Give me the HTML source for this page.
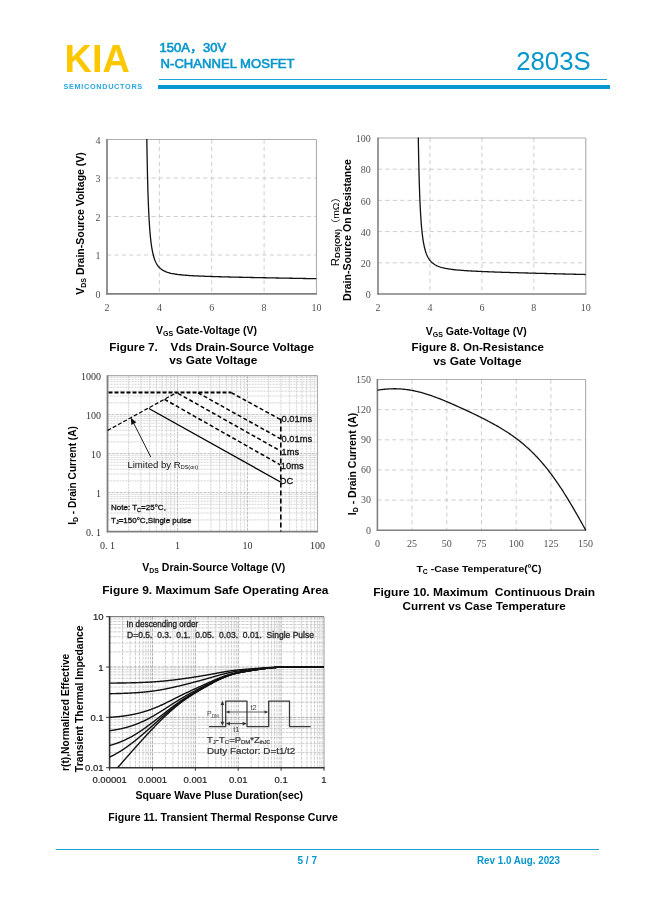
<!DOCTYPE html>
<html><head><meta charset="utf-8"><title>2803S datasheet page 5</title>
<style>html,body{margin:0;padding:0;background:#fff;overflow:hidden;width:649px;height:917px;} svg{display:block;}</style></head>
<body><svg width="649" height="917" viewBox="0 0 649 917">
<rect width="649" height="917" fill="#fff"/>
<text x="64.60" y="72.00" font-family='"Liberation Sans", Arial, sans-serif' font-size="39.5" font-weight="bold" fill="#fdc700" text-anchor="start" textLength="65.2" lengthAdjust="spacingAndGlyphs">KIA</text>
<text x="63.40" y="88.80" font-family='"Liberation Sans", Arial, sans-serif' font-size="7.3" font-weight="bold" fill="#2ba6dc" text-anchor="start" textLength="78.8" lengthAdjust="spacing">SEMICONDUCTORS</text>
<text x="159.60" y="51.80" font-family='"Liberation Sans", "Noto Sans CJK SC", sans-serif' font-size="12.4" font-weight="normal" fill="#0796cd" text-anchor="start" stroke="#0796cd" stroke-width="0.6" textLength="66.5" lengthAdjust="spacingAndGlyphs">150A，30V</text>
<text x="160.60" y="68.00" font-family='"Liberation Sans", Arial, sans-serif' font-size="13.2" font-weight="normal" fill="#0796cd" text-anchor="start" stroke="#0796cd" stroke-width="0.6" textLength="134" lengthAdjust="spacingAndGlyphs">N-CHANNEL MOSFET</text>
<text x="516.20" y="70.10" font-family='"Liberation Sans", Arial, sans-serif' font-size="25.6" font-weight="normal" fill="#0796cd" text-anchor="start" textLength="74.5" lengthAdjust="spacingAndGlyphs">2803S</text>
<line x1="159.00" y1="79.50" x2="607.00" y2="79.50" stroke="#22a3d8" stroke-width="1" />
<line x1="158.00" y1="87.00" x2="610.00" y2="87.00" stroke="#0796cd" stroke-width="4" />
<line x1="55.70" y1="849.50" x2="599.00" y2="849.50" stroke="#22a3d8" stroke-width="1.1" />
<text x="297.50" y="864.00" font-family='"Liberation Sans", Arial, sans-serif' font-size="10" font-weight="bold" fill="#0796cd" text-anchor="start" >5 / 7</text>
<text x="477.00" y="864.00" font-family='"Liberation Sans", Arial, sans-serif' font-size="10" font-weight="bold" fill="#0796cd" text-anchor="start" textLength="83" lengthAdjust="spacingAndGlyphs">Rev 1.0 Aug. 2023</text>
<line x1="159.38" y1="139.50" x2="159.38" y2="293.50" stroke="#c2c2c2" stroke-width="0.8" stroke-dasharray="4.2,3.2" />
<line x1="211.75" y1="139.50" x2="211.75" y2="293.50" stroke="#c2c2c2" stroke-width="0.8" stroke-dasharray="4.2,3.2" />
<line x1="264.12" y1="139.50" x2="264.12" y2="293.50" stroke="#c2c2c2" stroke-width="0.8" stroke-dasharray="4.2,3.2" />
<line x1="107.00" y1="255.00" x2="316.50" y2="255.00" stroke="#c2c2c2" stroke-width="0.8" stroke-dasharray="4.2,3.2" />
<line x1="107.00" y1="216.50" x2="316.50" y2="216.50" stroke="#c2c2c2" stroke-width="0.8" stroke-dasharray="4.2,3.2" />
<line x1="107.00" y1="178.00" x2="316.50" y2="178.00" stroke="#c2c2c2" stroke-width="0.8" stroke-dasharray="4.2,3.2" />
<line x1="107.00" y1="139.50" x2="316.50" y2="139.50" stroke="#adadad" stroke-width="1.2" />
<line x1="316.50" y1="139.50" x2="316.50" y2="293.50" stroke="#adadad" stroke-width="1.1" />
<line x1="107.00" y1="139.00" x2="107.00" y2="294.70" stroke="#808080" stroke-width="1.7" />
<line x1="106.20" y1="293.90" x2="317.00" y2="293.90" stroke="#808080" stroke-width="1.7" />
<polyline points="146.82,139.04 146.85,141.02 146.88,142.97 146.91,144.87 146.94,146.73 146.97,148.56 147.00,150.34 147.03,152.09 147.06,153.80 147.09,155.47 147.12,157.11 147.15,158.72 147.18,160.29 147.21,161.83 147.24,163.34 147.27,164.82 147.30,166.28 147.33,167.70 147.36,169.09 147.39,170.46 147.42,171.81 147.45,173.12 147.48,174.41 147.51,175.68 147.54,176.92 147.57,178.14 147.60,179.34 147.63,180.52 147.66,181.67 147.69,182.80 147.72,183.91 147.75,185.01 147.78,186.08 147.81,187.13 147.84,188.17 147.87,189.19 147.90,190.19 147.93,191.17 147.96,192.13 147.99,193.08 148.02,194.01 148.05,194.93 148.08,195.83 148.11,196.72 148.14,197.59 148.17,198.45 148.20,199.29 148.23,200.12 148.26,200.94 148.29,201.74 148.35,203.30 148.41,204.82 148.47,206.29 148.53,207.72 148.59,209.10 148.65,210.44 148.71,211.73 148.77,212.99 148.84,214.22 148.90,215.41 148.96,216.56 149.02,217.68 149.08,218.77 149.14,219.83 149.20,220.86 149.26,221.86 149.32,222.83 149.38,223.78 149.44,224.70 149.50,225.60 149.56,226.47 149.62,227.33 149.68,228.15 149.74,228.96 149.83,230.14 149.92,231.27 150.01,232.36 150.10,233.41 150.19,234.42 150.28,235.40 150.37,236.34 150.46,237.25 150.55,238.13 150.64,238.97 150.73,239.79 150.85,240.85 150.97,241.85 151.09,242.82 151.21,243.74 151.33,244.62 151.45,245.47 151.57,246.29 151.72,247.26 151.87,248.19 152.02,249.07 152.17,249.91 152.32,250.71 152.50,251.63 152.68,252.49 152.87,253.31 153.08,254.21 153.29,255.07 153.50,255.87 153.74,256.73 153.98,257.54 154.25,258.39 154.52,259.18 154.82,260.00 155.12,260.76 155.45,261.54 155.81,262.32 156.17,263.04 156.56,263.76 156.99,264.47 157.44,265.17 157.92,265.85 158.43,266.50 159.35,267.53 160.40,268.53 161.45,269.36 162.51,270.08 163.56,270.68 164.61,271.21 165.67,271.67 166.72,272.08 167.77,272.43 168.83,272.75 169.88,273.03 170.93,273.29 171.99,273.52 173.04,273.72 174.09,273.91 175.15,274.09 176.20,274.25 177.25,274.39 178.31,274.53 179.36,274.65 180.41,274.77 181.47,274.88 182.52,274.98 183.57,275.08 184.63,275.17 185.68,275.25 186.73,275.33 187.79,275.41 188.84,275.48 189.89,275.55 190.95,275.61 192.00,275.67 193.05,275.73 194.11,275.79 195.16,275.85 196.21,275.90 197.27,275.95 198.32,276.00 199.38,276.04 200.43,276.09 201.48,276.13 202.54,276.18 203.59,276.22 204.64,276.26 205.70,276.30 206.75,276.34 207.80,276.37 208.86,276.41 209.91,276.44 210.96,276.48 212.02,276.51 213.07,276.55 214.12,276.58 215.18,276.61 216.23,276.64 217.28,276.67 218.34,276.70 219.39,276.73 220.44,276.76 221.50,276.79 222.55,276.82 223.60,276.85 224.66,276.87 225.71,276.90 226.76,276.93 227.82,276.95 228.87,276.98 229.92,277.01 230.98,277.03 232.03,277.06 233.08,277.08 234.14,277.11 235.19,277.13 236.24,277.16 237.30,277.18 238.35,277.20 239.40,277.23 240.46,277.25 241.51,277.27 242.56,277.30 243.62,277.32 244.67,277.34 245.72,277.37 246.78,277.39 247.83,277.41 248.88,277.43 249.94,277.46 250.99,277.48 252.04,277.50 253.10,277.52 254.15,277.54 255.20,277.56 256.26,277.59 257.31,277.61 258.36,277.63 259.42,277.65 260.47,277.67 261.52,277.69 262.58,277.71 263.63,277.73 264.68,277.75 265.74,277.77 266.79,277.80 267.84,277.82 268.90,277.84 269.95,277.86 271.00,277.88 272.06,277.90 273.11,277.92 274.16,277.94 275.22,277.96 276.27,277.98 277.33,278.00 278.38,278.02 279.43,278.04 280.49,278.06 281.54,278.08 282.59,278.10 283.65,278.12 284.70,278.14 285.75,278.16 286.81,278.18 287.86,278.19 288.91,278.21 289.97,278.23 291.02,278.25 292.07,278.27 293.13,278.29 294.18,278.31 295.23,278.33 296.29,278.35 297.34,278.37 298.39,278.39 299.45,278.41 300.50,278.43 301.55,278.45 302.61,278.46 303.66,278.48 304.71,278.50 305.77,278.52 306.82,278.54 307.87,278.56 308.93,278.58 309.98,278.60 311.03,278.62 312.09,278.63 313.14,278.65 314.19,278.67 315.25,278.69 316.30,278.71 316.30,278.71" fill="none" stroke="#111" stroke-width="1.3" stroke-linejoin="round" />
<text x="100.50" y="297.60" font-family='"Liberation Serif", "Times New Roman", serif' font-size="10" font-weight="normal" fill="#505050" text-anchor="end" >0</text>
<text x="100.50" y="259.10" font-family='"Liberation Serif", "Times New Roman", serif' font-size="10" font-weight="normal" fill="#505050" text-anchor="end" >1</text>
<text x="100.50" y="220.60" font-family='"Liberation Serif", "Times New Roman", serif' font-size="10" font-weight="normal" fill="#505050" text-anchor="end" >2</text>
<text x="100.50" y="182.10" font-family='"Liberation Serif", "Times New Roman", serif' font-size="10" font-weight="normal" fill="#505050" text-anchor="end" >3</text>
<text x="100.50" y="143.60" font-family='"Liberation Serif", "Times New Roman", serif' font-size="10" font-weight="normal" fill="#505050" text-anchor="end" >4</text>
<text x="107.00" y="310.50" font-family='"Liberation Serif", "Times New Roman", serif' font-size="10" font-weight="normal" fill="#505050" text-anchor="middle" >2</text>
<text x="159.38" y="310.50" font-family='"Liberation Serif", "Times New Roman", serif' font-size="10" font-weight="normal" fill="#505050" text-anchor="middle" >4</text>
<text x="211.75" y="310.50" font-family='"Liberation Serif", "Times New Roman", serif' font-size="10" font-weight="normal" fill="#505050" text-anchor="middle" >6</text>
<text x="264.12" y="310.50" font-family='"Liberation Serif", "Times New Roman", serif' font-size="10" font-weight="normal" fill="#505050" text-anchor="middle" >8</text>
<text x="316.50" y="310.50" font-family='"Liberation Serif", "Times New Roman", serif' font-size="10" font-weight="normal" fill="#505050" text-anchor="middle" >10</text>
<text transform="translate(83.5,223.5) rotate(-90)" font-family='"Liberation Sans", Arial, sans-serif' font-size="10.5" font-weight="bold" text-anchor="middle">V<tspan font-size="7" dy="2">DS</tspan><tspan dy="-2"> Drain-Source Voltage (V)</tspan></text>
<text x="156" y="334" font-family='"Liberation Sans", Arial, sans-serif' font-size="10.5" font-weight="bold">V<tspan font-size="7" dy="2">GS</tspan><tspan dy="-2"> Gate-Voltage (V)</tspan></text>
<text x="109.30" y="350.80" font-family='"Liberation Sans", Arial, sans-serif' font-size="10.6" font-weight="bold" fill="#000" text-anchor="start" textLength="48.5" lengthAdjust="spacingAndGlyphs">Figure 7.</text>
<text x="170.60" y="350.80" font-family='"Liberation Sans", Arial, sans-serif' font-size="10.6" font-weight="bold" fill="#000" text-anchor="start" textLength="143.5" lengthAdjust="spacingAndGlyphs">Vds Drain-Source Voltage</text>
<text x="169.20" y="364.40" font-family='"Liberation Sans", Arial, sans-serif' font-size="10.6" font-weight="bold" fill="#000" text-anchor="start" textLength="88.2" lengthAdjust="spacingAndGlyphs">vs Gate Voltage</text>
<line x1="429.95" y1="138.00" x2="429.95" y2="294.00" stroke="#c2c2c2" stroke-width="0.8" stroke-dasharray="4.2,3.2" />
<line x1="481.90" y1="138.00" x2="481.90" y2="294.00" stroke="#c2c2c2" stroke-width="0.8" stroke-dasharray="4.2,3.2" />
<line x1="533.85" y1="138.00" x2="533.85" y2="294.00" stroke="#c2c2c2" stroke-width="0.8" stroke-dasharray="4.2,3.2" />
<line x1="378.00" y1="262.80" x2="585.80" y2="262.80" stroke="#c2c2c2" stroke-width="0.8" stroke-dasharray="4.2,3.2" />
<line x1="378.00" y1="231.60" x2="585.80" y2="231.60" stroke="#c2c2c2" stroke-width="0.8" stroke-dasharray="4.2,3.2" />
<line x1="378.00" y1="200.40" x2="585.80" y2="200.40" stroke="#c2c2c2" stroke-width="0.8" stroke-dasharray="4.2,3.2" />
<line x1="378.00" y1="169.20" x2="585.80" y2="169.20" stroke="#c2c2c2" stroke-width="0.8" stroke-dasharray="4.2,3.2" />
<line x1="378.00" y1="138.00" x2="585.80" y2="138.00" stroke="#adadad" stroke-width="1.2" />
<line x1="585.80" y1="138.00" x2="585.80" y2="294.00" stroke="#adadad" stroke-width="1.1" />
<line x1="378.00" y1="137.50" x2="378.00" y2="294.70" stroke="#808080" stroke-width="1.6" />
<line x1="377.30" y1="294.00" x2="586.30" y2="294.00" stroke="#808080" stroke-width="1.6" />
<polyline points="418.30,137.49 418.33,139.36 418.36,141.20 418.39,142.99 418.42,144.75 418.45,146.46 418.48,148.15 418.51,149.79 418.54,151.41 418.57,152.99 418.60,154.54 418.63,156.05 418.66,157.54 418.69,158.99 418.72,160.42 418.75,161.82 418.78,163.19 418.81,164.54 418.84,165.86 418.87,167.15 418.90,168.42 418.93,169.66 418.96,170.89 418.99,172.09 419.02,173.26 419.05,174.42 419.08,175.55 419.11,176.67 419.14,177.76 419.17,178.83 419.20,179.89 419.23,180.92 419.26,181.94 419.29,182.94 419.32,183.92 419.35,184.89 419.38,185.84 419.41,186.77 419.44,187.69 419.47,188.59 419.50,189.48 419.53,190.35 419.56,191.21 419.59,192.05 419.62,192.88 419.65,193.69 419.68,194.50 419.74,196.06 419.80,197.58 419.86,199.05 419.92,200.48 419.98,201.86 420.04,203.20 420.10,204.50 420.16,205.76 420.22,206.98 420.28,208.17 420.35,209.33 420.41,210.45 420.47,211.54 420.53,212.60 420.59,213.63 420.65,214.64 420.71,215.61 420.77,216.57 420.83,217.49 420.89,218.39 420.95,219.27 421.01,220.12 421.07,220.96 421.13,221.77 421.22,222.95 421.31,224.09 421.40,225.18 421.49,226.24 421.58,227.26 421.67,228.24 421.76,229.19 421.85,230.11 421.94,231.00 422.03,231.85 422.12,232.68 422.21,233.48 422.33,234.51 422.45,235.50 422.57,236.44 422.69,237.35 422.81,238.22 422.93,239.06 423.05,239.86 423.20,240.82 423.35,241.74 423.50,242.61 423.65,243.45 423.80,244.24 423.98,245.15 424.16,246.01 424.35,246.83 424.56,247.74 424.77,248.59 424.98,249.40 425.22,250.27 425.46,251.08 425.70,251.85 425.97,252.66 426.24,253.42 426.54,254.20 426.87,255.01 427.20,255.76 427.56,256.52 427.95,257.27 428.35,257.97 428.77,258.67 429.22,259.35 429.70,260.02 430.21,260.67 430.82,261.37 431.86,262.42 432.90,263.31 433.94,264.07 434.98,264.73 436.02,265.30 437.06,265.81 438.10,266.25 439.14,266.65 440.17,267.01 441.21,267.33 442.25,267.62 443.29,267.88 444.33,268.12 445.37,268.34 446.41,268.54 447.45,268.73 448.49,268.90 449.53,269.06 450.57,269.21 451.61,269.35 452.65,269.49 453.69,269.61 454.73,269.73 455.77,269.84 456.81,269.94 457.85,270.04 458.89,270.13 459.92,270.22 460.96,270.31 462.00,270.39 463.04,270.47 464.08,270.54 465.12,270.62 466.16,270.68 467.20,270.75 468.24,270.82 469.28,270.88 470.32,270.94 471.36,271.00 472.40,271.06 473.44,271.11 474.48,271.16 475.52,271.22 476.56,271.27 477.60,271.32 478.64,271.37 479.67,271.41 480.71,271.46 481.75,271.51 482.79,271.55 483.83,271.59 484.87,271.64 485.91,271.68 486.95,271.72 487.99,271.76 489.03,271.80 490.07,271.84 491.11,271.88 492.15,271.92 493.19,271.96 494.23,271.99 495.27,272.03 496.31,272.07 497.35,272.10 498.38,272.14 499.42,272.17 500.46,272.21 501.50,272.24 502.54,272.28 503.58,272.31 504.62,272.34 505.66,272.38 506.70,272.41 507.74,272.44 508.78,272.47 509.82,272.51 510.86,272.54 511.90,272.57 512.94,272.60 513.98,272.63 515.02,272.66 516.06,272.69 517.10,272.72 518.13,272.76 519.17,272.79 520.21,272.82 521.25,272.85 522.29,272.87 523.33,272.90 524.37,272.93 525.41,272.96 526.45,272.99 527.49,273.02 528.53,273.05 529.57,273.08 530.61,273.11 531.65,273.14 532.69,273.16 533.73,273.19 534.77,273.22 535.81,273.25 536.85,273.28 537.88,273.30 538.92,273.33 539.96,273.36 541.00,273.39 542.04,273.41 543.08,273.44 544.12,273.47 545.16,273.50 546.20,273.52 547.24,273.55 548.28,273.58 549.32,273.60 550.36,273.63 551.40,273.66 552.44,273.69 553.48,273.71 554.52,273.74 555.56,273.77 556.59,273.79 557.63,273.82 558.67,273.84 559.71,273.87 560.75,273.90 561.79,273.92 562.83,273.95 563.87,273.98 564.91,274.00 565.95,274.03 566.99,274.05 568.03,274.08 569.07,274.11 570.11,274.13 571.15,274.16 572.19,274.18 573.23,274.21 574.27,274.24 575.31,274.26 576.34,274.29 577.38,274.31 578.42,274.34 579.46,274.36 580.50,274.39 581.54,274.42 582.58,274.44 583.62,274.47 584.66,274.49 585.70,274.52 585.70,274.52" fill="none" stroke="#111" stroke-width="1.3" stroke-linejoin="round" />
<text x="370.80" y="298.10" font-family='"Liberation Serif", "Times New Roman", serif' font-size="10" font-weight="normal" fill="#505050" text-anchor="end" >0</text>
<text x="370.80" y="266.90" font-family='"Liberation Serif", "Times New Roman", serif' font-size="10" font-weight="normal" fill="#505050" text-anchor="end" >20</text>
<text x="370.80" y="235.70" font-family='"Liberation Serif", "Times New Roman", serif' font-size="10" font-weight="normal" fill="#505050" text-anchor="end" >40</text>
<text x="370.80" y="204.50" font-family='"Liberation Serif", "Times New Roman", serif' font-size="10" font-weight="normal" fill="#505050" text-anchor="end" >60</text>
<text x="370.80" y="173.30" font-family='"Liberation Serif", "Times New Roman", serif' font-size="10" font-weight="normal" fill="#505050" text-anchor="end" >80</text>
<text x="370.80" y="142.10" font-family='"Liberation Serif", "Times New Roman", serif' font-size="10" font-weight="normal" fill="#505050" text-anchor="end" >100</text>
<text x="378.00" y="310.50" font-family='"Liberation Serif", "Times New Roman", serif' font-size="10" font-weight="normal" fill="#505050" text-anchor="middle" >2</text>
<text x="429.95" y="310.50" font-family='"Liberation Serif", "Times New Roman", serif' font-size="10" font-weight="normal" fill="#505050" text-anchor="middle" >4</text>
<text x="481.90" y="310.50" font-family='"Liberation Serif", "Times New Roman", serif' font-size="10" font-weight="normal" fill="#505050" text-anchor="middle" >6</text>
<text x="533.85" y="310.50" font-family='"Liberation Serif", "Times New Roman", serif' font-size="10" font-weight="normal" fill="#505050" text-anchor="middle" >8</text>
<text x="585.80" y="310.50" font-family='"Liberation Serif", "Times New Roman", serif' font-size="10" font-weight="normal" fill="#505050" text-anchor="middle" >10</text>
<text transform="translate(338.6,266.2) rotate(-90)" font-family='"Liberation Sans", Arial, sans-serif' font-size="10.5" font-weight="normal" text-anchor="start" textLength="74" lengthAdjust="spacingAndGlyphs">R<tspan font-size="7.5" font-weight="bold" dy="1.8">DS(ON)</tspan><tspan dy="-1.8" font-size="9.5" font-family='"Liberation Sans","Noto Sans CJK SC",sans-serif'>（mΩ）</tspan></text>
<text transform="translate(351,230) rotate(-90)" font-family='"Liberation Sans", Arial, sans-serif' font-size="10.5" font-weight="bold" text-anchor="middle">Drain-Source On Resistance</text>
<text x="425.7" y="334.5" font-family='"Liberation Sans", Arial, sans-serif' font-size="10.5" font-weight="bold">V<tspan font-size="7" dy="2">GS</tspan><tspan dy="-2"> Gate-Voltage (V)</tspan></text>
<text x="411.60" y="350.80" font-family='"Liberation Sans", Arial, sans-serif' font-size="10.4" font-weight="bold" fill="#000" text-anchor="start" textLength="132.3" lengthAdjust="spacingAndGlyphs">Figure 8. On-Resistance</text>
<text x="433.20" y="364.60" font-family='"Liberation Sans", Arial, sans-serif' font-size="10.4" font-weight="bold" fill="#000" text-anchor="start" textLength="88.4" lengthAdjust="spacingAndGlyphs">vs Gate Voltage</text>
<line x1="128.57" y1="375.70" x2="128.57" y2="531.60" stroke="#c6c6c6" stroke-width="0.75" stroke-dasharray="2,1" />
<line x1="140.90" y1="375.70" x2="140.90" y2="531.60" stroke="#c6c6c6" stroke-width="0.75" stroke-dasharray="2,1" />
<line x1="149.64" y1="375.70" x2="149.64" y2="531.60" stroke="#c6c6c6" stroke-width="0.75" stroke-dasharray="2,1" />
<line x1="156.43" y1="375.70" x2="156.43" y2="531.60" stroke="#c6c6c6" stroke-width="0.75" stroke-dasharray="2,1" />
<line x1="161.97" y1="375.70" x2="161.97" y2="531.60" stroke="#c6c6c6" stroke-width="0.75" stroke-dasharray="2,1" />
<line x1="166.66" y1="375.70" x2="166.66" y2="531.60" stroke="#c6c6c6" stroke-width="0.75" stroke-dasharray="2,1" />
<line x1="170.72" y1="375.70" x2="170.72" y2="531.60" stroke="#c6c6c6" stroke-width="0.75" stroke-dasharray="2,1" />
<line x1="174.30" y1="375.70" x2="174.30" y2="531.60" stroke="#c6c6c6" stroke-width="0.75" stroke-dasharray="2,1" />
<line x1="177.50" y1="375.70" x2="177.50" y2="531.60" stroke="#b2b2b2" stroke-width="0.8" stroke-dasharray="3,1" />
<line x1="198.57" y1="375.70" x2="198.57" y2="531.60" stroke="#c6c6c6" stroke-width="0.75" stroke-dasharray="2,1" />
<line x1="210.90" y1="375.70" x2="210.90" y2="531.60" stroke="#c6c6c6" stroke-width="0.75" stroke-dasharray="2,1" />
<line x1="219.64" y1="375.70" x2="219.64" y2="531.60" stroke="#c6c6c6" stroke-width="0.75" stroke-dasharray="2,1" />
<line x1="226.43" y1="375.70" x2="226.43" y2="531.60" stroke="#c6c6c6" stroke-width="0.75" stroke-dasharray="2,1" />
<line x1="231.97" y1="375.70" x2="231.97" y2="531.60" stroke="#c6c6c6" stroke-width="0.75" stroke-dasharray="2,1" />
<line x1="236.66" y1="375.70" x2="236.66" y2="531.60" stroke="#c6c6c6" stroke-width="0.75" stroke-dasharray="2,1" />
<line x1="240.72" y1="375.70" x2="240.72" y2="531.60" stroke="#c6c6c6" stroke-width="0.75" stroke-dasharray="2,1" />
<line x1="244.30" y1="375.70" x2="244.30" y2="531.60" stroke="#c6c6c6" stroke-width="0.75" stroke-dasharray="2,1" />
<line x1="247.50" y1="375.70" x2="247.50" y2="531.60" stroke="#b2b2b2" stroke-width="0.8" stroke-dasharray="3,1" />
<line x1="268.57" y1="375.70" x2="268.57" y2="531.60" stroke="#c6c6c6" stroke-width="0.75" stroke-dasharray="2,1" />
<line x1="280.90" y1="375.70" x2="280.90" y2="531.60" stroke="#c6c6c6" stroke-width="0.75" stroke-dasharray="2,1" />
<line x1="289.64" y1="375.70" x2="289.64" y2="531.60" stroke="#c6c6c6" stroke-width="0.75" stroke-dasharray="2,1" />
<line x1="296.43" y1="375.70" x2="296.43" y2="531.60" stroke="#c6c6c6" stroke-width="0.75" stroke-dasharray="2,1" />
<line x1="301.97" y1="375.70" x2="301.97" y2="531.60" stroke="#c6c6c6" stroke-width="0.75" stroke-dasharray="2,1" />
<line x1="306.66" y1="375.70" x2="306.66" y2="531.60" stroke="#c6c6c6" stroke-width="0.75" stroke-dasharray="2,1" />
<line x1="310.72" y1="375.70" x2="310.72" y2="531.60" stroke="#c6c6c6" stroke-width="0.75" stroke-dasharray="2,1" />
<line x1="314.30" y1="375.70" x2="314.30" y2="531.60" stroke="#c6c6c6" stroke-width="0.75" stroke-dasharray="2,1" />
<line x1="317.50" y1="375.70" x2="317.50" y2="531.60" stroke="#d0d0d0" stroke-width="0.7" />
<line x1="107.50" y1="519.86" x2="317.50" y2="519.86" stroke="#c6c6c6" stroke-width="0.75" stroke-dasharray="2,1" />
<line x1="107.50" y1="512.99" x2="317.50" y2="512.99" stroke="#c6c6c6" stroke-width="0.75" stroke-dasharray="2,1" />
<line x1="107.50" y1="508.12" x2="317.50" y2="508.12" stroke="#c6c6c6" stroke-width="0.75" stroke-dasharray="2,1" />
<line x1="107.50" y1="504.34" x2="317.50" y2="504.34" stroke="#c6c6c6" stroke-width="0.75" stroke-dasharray="2,1" />
<line x1="107.50" y1="501.25" x2="317.50" y2="501.25" stroke="#c6c6c6" stroke-width="0.75" stroke-dasharray="2,1" />
<line x1="107.50" y1="498.64" x2="317.50" y2="498.64" stroke="#c6c6c6" stroke-width="0.75" stroke-dasharray="2,1" />
<line x1="107.50" y1="496.38" x2="317.50" y2="496.38" stroke="#c6c6c6" stroke-width="0.75" stroke-dasharray="2,1" />
<line x1="107.50" y1="494.38" x2="317.50" y2="494.38" stroke="#c6c6c6" stroke-width="0.75" stroke-dasharray="2,1" />
<line x1="107.50" y1="492.60" x2="317.50" y2="492.60" stroke="#b2b2b2" stroke-width="0.8" stroke-dasharray="3,1" />
<line x1="107.50" y1="480.86" x2="317.50" y2="480.86" stroke="#c6c6c6" stroke-width="0.75" stroke-dasharray="2,1" />
<line x1="107.50" y1="473.99" x2="317.50" y2="473.99" stroke="#c6c6c6" stroke-width="0.75" stroke-dasharray="2,1" />
<line x1="107.50" y1="469.12" x2="317.50" y2="469.12" stroke="#c6c6c6" stroke-width="0.75" stroke-dasharray="2,1" />
<line x1="107.50" y1="465.34" x2="317.50" y2="465.34" stroke="#c6c6c6" stroke-width="0.75" stroke-dasharray="2,1" />
<line x1="107.50" y1="462.25" x2="317.50" y2="462.25" stroke="#c6c6c6" stroke-width="0.75" stroke-dasharray="2,1" />
<line x1="107.50" y1="459.64" x2="317.50" y2="459.64" stroke="#c6c6c6" stroke-width="0.75" stroke-dasharray="2,1" />
<line x1="107.50" y1="457.38" x2="317.50" y2="457.38" stroke="#c6c6c6" stroke-width="0.75" stroke-dasharray="2,1" />
<line x1="107.50" y1="455.38" x2="317.50" y2="455.38" stroke="#c6c6c6" stroke-width="0.75" stroke-dasharray="2,1" />
<line x1="107.50" y1="453.60" x2="317.50" y2="453.60" stroke="#b2b2b2" stroke-width="0.8" stroke-dasharray="3,1" />
<line x1="107.50" y1="441.86" x2="317.50" y2="441.86" stroke="#c6c6c6" stroke-width="0.75" stroke-dasharray="2,1" />
<line x1="107.50" y1="434.99" x2="317.50" y2="434.99" stroke="#c6c6c6" stroke-width="0.75" stroke-dasharray="2,1" />
<line x1="107.50" y1="430.12" x2="317.50" y2="430.12" stroke="#c6c6c6" stroke-width="0.75" stroke-dasharray="2,1" />
<line x1="107.50" y1="426.34" x2="317.50" y2="426.34" stroke="#c6c6c6" stroke-width="0.75" stroke-dasharray="2,1" />
<line x1="107.50" y1="423.25" x2="317.50" y2="423.25" stroke="#c6c6c6" stroke-width="0.75" stroke-dasharray="2,1" />
<line x1="107.50" y1="420.64" x2="317.50" y2="420.64" stroke="#c6c6c6" stroke-width="0.75" stroke-dasharray="2,1" />
<line x1="107.50" y1="418.38" x2="317.50" y2="418.38" stroke="#c6c6c6" stroke-width="0.75" stroke-dasharray="2,1" />
<line x1="107.50" y1="416.38" x2="317.50" y2="416.38" stroke="#c6c6c6" stroke-width="0.75" stroke-dasharray="2,1" />
<line x1="107.50" y1="414.60" x2="317.50" y2="414.60" stroke="#b2b2b2" stroke-width="0.8" stroke-dasharray="3,1" />
<line x1="107.50" y1="402.86" x2="317.50" y2="402.86" stroke="#c6c6c6" stroke-width="0.75" stroke-dasharray="2,1" />
<line x1="107.50" y1="395.99" x2="317.50" y2="395.99" stroke="#c6c6c6" stroke-width="0.75" stroke-dasharray="2,1" />
<line x1="107.50" y1="391.12" x2="317.50" y2="391.12" stroke="#c6c6c6" stroke-width="0.75" stroke-dasharray="2,1" />
<line x1="107.50" y1="387.34" x2="317.50" y2="387.34" stroke="#c6c6c6" stroke-width="0.75" stroke-dasharray="2,1" />
<line x1="107.50" y1="384.25" x2="317.50" y2="384.25" stroke="#c6c6c6" stroke-width="0.75" stroke-dasharray="2,1" />
<line x1="107.50" y1="381.64" x2="317.50" y2="381.64" stroke="#c6c6c6" stroke-width="0.75" stroke-dasharray="2,1" />
<line x1="107.50" y1="379.38" x2="317.50" y2="379.38" stroke="#c6c6c6" stroke-width="0.75" stroke-dasharray="2,1" />
<line x1="107.50" y1="377.38" x2="317.50" y2="377.38" stroke="#c6c6c6" stroke-width="0.75" stroke-dasharray="2,1" />
<line x1="107.50" y1="375.70" x2="317.50" y2="375.70" stroke="#adadad" stroke-width="1.2" />
<line x1="317.50" y1="375.70" x2="317.50" y2="531.60" stroke="#adadad" stroke-width="1.1" />
<line x1="107.50" y1="375.20" x2="107.50" y2="532.30" stroke="#808080" stroke-width="1.8" />
<line x1="106.80" y1="531.60" x2="318.00" y2="531.60" stroke="#808080" stroke-width="1.8" />
<line x1="108.50" y1="392.60" x2="231.20" y2="392.60" stroke="#000" stroke-width="2" stroke-dasharray="4,2" />
<line x1="107.50" y1="430.50" x2="176.60" y2="392.60" stroke="#000" stroke-width="1.2" stroke-dasharray="4,2" />
<line x1="231.20" y1="392.60" x2="280.20" y2="419.40" stroke="#000" stroke-width="1.5" stroke-dasharray="4,2.5" />
<line x1="198.00" y1="392.80" x2="280.20" y2="438.60" stroke="#000" stroke-width="1.5" stroke-dasharray="4,2.5" />
<line x1="178.00" y1="393.40" x2="280.20" y2="450.80" stroke="#000" stroke-width="1.5" stroke-dasharray="4,2.5" />
<line x1="164.50" y1="399.30" x2="280.20" y2="464.80" stroke="#000" stroke-width="1.5" stroke-dasharray="4,2.5" />
<line x1="148.90" y1="408.50" x2="280.50" y2="482.00" stroke="#000" stroke-width="1.35" />
<line x1="280.80" y1="418.50" x2="280.80" y2="531.60" stroke="#000" stroke-width="1.6" stroke-dasharray="5,3" />
<line x1="150.80" y1="457.00" x2="132.80" y2="421.50" stroke="#222" stroke-width="1" />
<polygon points="130.8,417.7 136.4,422.2 131.3,424.9" fill="#111"/>
<text x="127.40" y="467.60" font-family='"Liberation Sans", Arial, sans-serif' font-size="9.6" font-weight="normal" fill="#111" text-anchor="start" >Limited by R<tspan font-size="5.5" dy="1.5">DS(on)</tspan></text>
<text x="281.60" y="422.40" font-family='"Liberation Sans", Arial, sans-serif' font-size="9.3" font-weight="normal" fill="#111" text-anchor="start" stroke="#111" stroke-width="0.3">0.01ms</text>
<text x="281.60" y="442.10" font-family='"Liberation Sans", Arial, sans-serif' font-size="9.3" font-weight="normal" fill="#111" text-anchor="start" stroke="#111" stroke-width="0.3">0.01ms</text>
<text x="281.60" y="454.80" font-family='"Liberation Sans", Arial, sans-serif' font-size="9.3" font-weight="normal" fill="#111" text-anchor="start" stroke="#111" stroke-width="0.3">1ms</text>
<text x="280.80" y="469.20" font-family='"Liberation Sans", Arial, sans-serif' font-size="9.3" font-weight="normal" fill="#111" text-anchor="start" stroke="#111" stroke-width="0.3">10ms</text>
<text x="279.80" y="484.40" font-family='"Liberation Sans", Arial, sans-serif' font-size="9.3" font-weight="normal" fill="#111" text-anchor="start" stroke="#111" stroke-width="0.3">DC</text>
<text x="111.00" y="510.00" font-family='"Liberation Sans", Arial, sans-serif' font-size="8" font-weight="normal" fill="#111" text-anchor="start" stroke="#111" stroke-width="0.3">Note: T<tspan font-size="5.5" dy="1.5">C</tspan><tspan dy="-1.5">=25°C,</tspan></text>
<text x="111.00" y="522.50" font-family='"Liberation Sans", Arial, sans-serif' font-size="8" font-weight="normal" fill="#111" text-anchor="start" stroke="#111" stroke-width="0.3">T<tspan font-size="5.5" dy="1.5">J</tspan><tspan dy="-1.5">=150°C,Single pulse</tspan></text>
<text x="101.00" y="380.00" font-family='"Liberation Serif", "Times New Roman", serif' font-size="10" font-weight="normal" fill="#303030" text-anchor="end" >1000</text>
<text x="101.00" y="419.00" font-family='"Liberation Serif", "Times New Roman", serif' font-size="10" font-weight="normal" fill="#303030" text-anchor="end" >100</text>
<text x="101.00" y="458.00" font-family='"Liberation Serif", "Times New Roman", serif' font-size="10" font-weight="normal" fill="#303030" text-anchor="end" >10</text>
<text x="101.00" y="497.00" font-family='"Liberation Serif", "Times New Roman", serif' font-size="10" font-weight="normal" fill="#303030" text-anchor="end" >1</text>
<text x="101.00" y="536.00" font-family='"Liberation Serif", "Times New Roman", serif' font-size="10" font-weight="normal" fill="#303030" text-anchor="end" >0. 1</text>
<text x="107.50" y="548.60" font-family='"Liberation Serif", "Times New Roman", serif' font-size="10" font-weight="normal" fill="#303030" text-anchor="middle" >0. 1</text>
<text x="177.50" y="548.60" font-family='"Liberation Serif", "Times New Roman", serif' font-size="10" font-weight="normal" fill="#303030" text-anchor="middle" >1</text>
<text x="247.50" y="548.60" font-family='"Liberation Serif", "Times New Roman", serif' font-size="10" font-weight="normal" fill="#303030" text-anchor="middle" >10</text>
<text x="317.50" y="548.60" font-family='"Liberation Serif", "Times New Roman", serif' font-size="10" font-weight="normal" fill="#303030" text-anchor="middle" >100</text>
<text transform="translate(76.2,475.5) rotate(-90)" font-family='"Liberation Sans", Arial, sans-serif' font-size="10.1" font-weight="bold" text-anchor="middle">I<tspan font-size="7" dy="2">D</tspan><tspan dy="-2"> - Drain Current (A)</tspan></text>
<text x="142.3" y="571.4" textLength="143" lengthAdjust="spacingAndGlyphs" font-family='"Liberation Sans", Arial, sans-serif' font-size="10" font-weight="bold">V<tspan font-size="6.5" dy="2">DS</tspan><tspan dy="-2"> Drain-Source Voltage (V)</tspan></text>
<text x="102.30" y="594.40" font-family='"Liberation Sans", Arial, sans-serif' font-size="11.2" font-weight="bold" fill="#000" text-anchor="start" textLength="226.2" lengthAdjust="spacingAndGlyphs">Figure 9. Maximum Safe Operating Area</text>
<line x1="412.10" y1="379.50" x2="412.10" y2="530.30" stroke="#c2c2c2" stroke-width="0.8" stroke-dasharray="4.2,3.2" />
<line x1="446.80" y1="379.50" x2="446.80" y2="530.30" stroke="#c2c2c2" stroke-width="0.8" stroke-dasharray="4.2,3.2" />
<line x1="481.50" y1="379.50" x2="481.50" y2="530.30" stroke="#c2c2c2" stroke-width="0.8" stroke-dasharray="4.2,3.2" />
<line x1="516.20" y1="379.50" x2="516.20" y2="530.30" stroke="#c2c2c2" stroke-width="0.8" stroke-dasharray="4.2,3.2" />
<line x1="550.90" y1="379.50" x2="550.90" y2="530.30" stroke="#c2c2c2" stroke-width="0.8" stroke-dasharray="4.2,3.2" />
<line x1="377.40" y1="500.14" x2="585.60" y2="500.14" stroke="#c2c2c2" stroke-width="0.8" stroke-dasharray="4.2,3.2" />
<line x1="377.40" y1="469.98" x2="585.60" y2="469.98" stroke="#c2c2c2" stroke-width="0.8" stroke-dasharray="4.2,3.2" />
<line x1="377.40" y1="439.82" x2="585.60" y2="439.82" stroke="#c2c2c2" stroke-width="0.8" stroke-dasharray="4.2,3.2" />
<line x1="377.40" y1="409.66" x2="585.60" y2="409.66" stroke="#c2c2c2" stroke-width="0.8" stroke-dasharray="4.2,3.2" />
<line x1="377.40" y1="379.50" x2="585.60" y2="379.50" stroke="#adadad" stroke-width="1.2" />
<line x1="585.60" y1="379.50" x2="585.60" y2="530.30" stroke="#adadad" stroke-width="1.1" />
<line x1="377.40" y1="379.00" x2="377.40" y2="531.00" stroke="#808080" stroke-width="1.6" />
<line x1="376.70" y1="530.30" x2="586.10" y2="530.30" stroke="#808080" stroke-width="1.6" />
<polyline points="377.40,390.14 378.20,390.03 379.01,389.91 379.81,389.81 380.62,389.70 381.42,389.60 382.23,389.50 383.03,389.41 383.84,389.33 384.64,389.25 385.45,389.17 386.25,389.11 387.06,389.04 387.86,388.99 388.66,388.93 389.47,388.89 390.27,388.85 391.08,388.82 391.88,388.80 392.69,388.78 393.49,388.77 394.30,388.76 395.10,388.76 395.91,388.77 396.71,388.79 397.52,388.81 398.32,388.84 399.13,388.88 399.93,388.92 400.73,388.97 401.54,389.03 402.34,389.10 403.15,389.17 403.95,389.25 404.76,389.34 405.56,389.43 406.37,389.53 407.17,389.64 407.98,389.75 408.78,389.87 409.59,390.00 410.39,390.14 411.19,390.28 412.00,390.43 412.80,390.58 413.61,390.74 414.41,390.91 415.22,391.08 416.02,391.26 416.83,391.44 417.63,391.64 418.44,391.83 419.24,392.04 420.05,392.24 420.85,392.46 421.65,392.68 422.46,392.90 423.26,393.13 424.07,393.37 424.87,393.61 425.68,393.85 426.48,394.10 427.29,394.36 428.09,394.62 428.90,394.88 429.70,395.15 430.51,395.42 431.31,395.70 432.12,395.98 432.92,396.26 433.72,396.55 434.53,396.84 435.33,397.14 436.14,397.44 436.94,397.74 437.75,398.05 438.55,398.36 439.36,398.67 440.16,398.98 440.97,399.30 441.77,399.62 442.58,399.95 443.38,400.27 444.18,400.60 444.99,400.93 445.79,401.27 446.60,401.60 447.40,401.94 448.21,402.28 449.01,402.63 449.82,402.97 450.62,403.32 451.43,403.66 452.23,404.01 453.04,404.37 453.84,404.72 454.64,405.08 455.45,405.43 456.25,405.79 457.06,406.15 457.86,406.51 458.67,406.87 459.47,407.24 460.28,407.60 461.08,407.97 461.89,408.34 462.69,408.71 463.50,409.08 464.30,409.45 465.11,409.82 465.91,410.19 466.71,410.57 467.52,410.95 468.32,411.32 469.13,411.70 469.93,412.08 470.74,412.46 471.54,412.85 472.35,413.23 473.15,413.62 473.96,414.00 474.76,414.39 475.57,414.78 476.37,415.17 477.17,415.57 477.98,415.96 478.78,416.36 479.59,416.76 480.39,417.16 481.20,417.56 482.00,417.96 482.81,418.37 483.61,418.78 484.42,419.19 485.22,419.60 486.03,420.01 486.83,420.43 487.63,420.85 488.44,421.27 489.24,421.70 490.05,422.13 490.85,422.56 491.66,422.99 492.46,423.43 493.27,423.87 494.07,424.32 494.88,424.76 495.68,425.22 496.49,425.67 497.29,426.13 498.09,426.59 498.90,427.06 499.70,427.54 500.51,428.01 501.31,428.49 502.12,428.98 502.92,429.47 503.73,429.97 504.53,430.47 505.34,430.98 506.14,431.49 506.95,432.01 507.75,432.54 508.56,433.07 509.36,433.61 510.16,434.15 510.97,434.70 511.77,435.26 512.58,435.82 513.38,436.39 514.19,436.97 514.99,437.56 515.80,438.15 516.60,438.75 517.41,439.36 518.21,439.98 519.02,440.61 519.82,441.24 520.62,441.88 521.43,442.54 522.23,443.20 523.04,443.87 523.84,444.55 524.65,445.24 525.45,445.94 526.26,446.64 527.06,447.36 527.87,448.09 528.67,448.83 529.48,449.58 530.28,450.34 531.08,451.11 531.89,451.89 532.69,452.68 533.50,453.48 534.30,454.30 535.11,455.12 535.91,455.96 536.72,456.81 537.52,457.67 538.33,458.54 539.13,459.43 539.94,460.32 540.74,461.23 541.55,462.15 542.35,463.09 543.15,464.03 543.96,464.99 544.76,465.96 545.57,466.94 546.37,467.93 547.18,468.94 547.98,469.96 548.79,470.99 549.59,472.04 550.40,473.10 551.20,474.17 552.01,475.25 552.81,476.35 553.61,477.46 554.42,478.58 555.22,479.71 556.03,480.86 556.83,482.01 557.64,483.18 558.44,484.37 559.25,485.56 560.05,486.77 560.86,487.99 561.66,489.22 562.47,490.46 563.27,491.71 564.07,492.98 564.88,494.25 565.68,495.54 566.49,496.84 567.29,498.14 568.10,499.46 568.90,500.79 569.71,502.12 570.51,503.47 571.32,504.82 572.12,506.19 572.93,507.56 573.73,508.94 574.54,510.32 575.34,511.72 576.14,513.12 576.95,514.53 577.75,515.94 578.56,517.36 579.36,518.78 580.17,520.21 580.97,521.64 581.78,523.07 582.58,524.51 583.39,525.95 584.19,527.39 585.00,528.83 585.80,530.27" fill="none" stroke="#111" stroke-width="1.3" stroke-linejoin="round" />
<text x="371.00" y="533.50" font-family='"Liberation Serif", "Times New Roman", serif' font-size="10" font-weight="normal" fill="#505050" text-anchor="end" >0</text>
<text x="371.00" y="503.34" font-family='"Liberation Serif", "Times New Roman", serif' font-size="10" font-weight="normal" fill="#505050" text-anchor="end" >30</text>
<text x="371.00" y="473.18" font-family='"Liberation Serif", "Times New Roman", serif' font-size="10" font-weight="normal" fill="#505050" text-anchor="end" >60</text>
<text x="371.00" y="443.02" font-family='"Liberation Serif", "Times New Roman", serif' font-size="10" font-weight="normal" fill="#505050" text-anchor="end" >90</text>
<text x="371.00" y="412.86" font-family='"Liberation Serif", "Times New Roman", serif' font-size="10" font-weight="normal" fill="#505050" text-anchor="end" >120</text>
<text x="371.00" y="382.70" font-family='"Liberation Serif", "Times New Roman", serif' font-size="10" font-weight="normal" fill="#505050" text-anchor="end" >150</text>
<text x="377.40" y="547.00" font-family='"Liberation Serif", "Times New Roman", serif' font-size="10" font-weight="normal" fill="#505050" text-anchor="middle" >0</text>
<text x="412.10" y="547.00" font-family='"Liberation Serif", "Times New Roman", serif' font-size="10" font-weight="normal" fill="#505050" text-anchor="middle" >25</text>
<text x="446.80" y="547.00" font-family='"Liberation Serif", "Times New Roman", serif' font-size="10" font-weight="normal" fill="#505050" text-anchor="middle" >50</text>
<text x="481.50" y="547.00" font-family='"Liberation Serif", "Times New Roman", serif' font-size="10" font-weight="normal" fill="#505050" text-anchor="middle" >75</text>
<text x="516.20" y="547.00" font-family='"Liberation Serif", "Times New Roman", serif' font-size="10" font-weight="normal" fill="#505050" text-anchor="middle" >100</text>
<text x="550.90" y="547.00" font-family='"Liberation Serif", "Times New Roman", serif' font-size="10" font-weight="normal" fill="#505050" text-anchor="middle" >125</text>
<text x="585.60" y="547.00" font-family='"Liberation Serif", "Times New Roman", serif' font-size="10" font-weight="normal" fill="#505050" text-anchor="middle" >150</text>
<text transform="translate(356,464) rotate(-90)" font-family='"Liberation Sans", Arial, sans-serif' font-size="10.5" font-weight="bold" text-anchor="middle">I<tspan font-size="7" dy="2">D</tspan><tspan dy="-2"> - Drain Current (A)</tspan></text>
<text x="416.5" y="572.4" textLength="125" lengthAdjust="spacingAndGlyphs" font-family='"Liberation Sans","Noto Sans CJK SC",sans-serif' font-size="9.4" font-weight="bold">T<tspan font-size="6.3" dy="2">C</tspan><tspan dy="-2"> -Case Temperature(℃)</tspan></text>
<text x="373.20" y="595.70" font-family='"Liberation Sans", Arial, sans-serif' font-size="11" font-weight="bold" fill="#000" text-anchor="start" textLength="222" lengthAdjust="spacingAndGlyphs">Figure 10. Maximum&#160; Continuous Drain</text>
<text x="402.60" y="609.50" font-family='"Liberation Sans", Arial, sans-serif' font-size="11" font-weight="bold" fill="#000" text-anchor="start" textLength="163.2" lengthAdjust="spacingAndGlyphs">Current vs Case Temperature</text>
<line x1="122.51" y1="616.70" x2="122.51" y2="767.70" stroke="#c0c0c0" stroke-width="0.8" stroke-dasharray="3,1" />
<line x1="130.06" y1="616.70" x2="130.06" y2="767.70" stroke="#c0c0c0" stroke-width="0.8" stroke-dasharray="3,1" />
<line x1="135.42" y1="616.70" x2="135.42" y2="767.70" stroke="#c0c0c0" stroke-width="0.8" stroke-dasharray="3,1" />
<line x1="139.57" y1="616.70" x2="139.57" y2="767.70" stroke="#c0c0c0" stroke-width="0.8" stroke-dasharray="3,1" />
<line x1="142.97" y1="616.70" x2="142.97" y2="767.70" stroke="#c0c0c0" stroke-width="0.8" stroke-dasharray="3,1" />
<line x1="145.84" y1="616.70" x2="145.84" y2="767.70" stroke="#c0c0c0" stroke-width="0.8" stroke-dasharray="3,1" />
<line x1="148.32" y1="616.70" x2="148.32" y2="767.70" stroke="#c0c0c0" stroke-width="0.8" stroke-dasharray="3,1" />
<line x1="150.52" y1="616.70" x2="150.52" y2="767.70" stroke="#c0c0c0" stroke-width="0.8" stroke-dasharray="3,1" />
<line x1="152.48" y1="616.70" x2="152.48" y2="767.70" stroke="#a0a0a0" stroke-width="0.9" stroke-dasharray="3,1" />
<line x1="165.39" y1="616.70" x2="165.39" y2="767.70" stroke="#c0c0c0" stroke-width="0.8" stroke-dasharray="3,1" />
<line x1="172.94" y1="616.70" x2="172.94" y2="767.70" stroke="#c0c0c0" stroke-width="0.8" stroke-dasharray="3,1" />
<line x1="178.30" y1="616.70" x2="178.30" y2="767.70" stroke="#c0c0c0" stroke-width="0.8" stroke-dasharray="3,1" />
<line x1="182.45" y1="616.70" x2="182.45" y2="767.70" stroke="#c0c0c0" stroke-width="0.8" stroke-dasharray="3,1" />
<line x1="185.85" y1="616.70" x2="185.85" y2="767.70" stroke="#c0c0c0" stroke-width="0.8" stroke-dasharray="3,1" />
<line x1="188.72" y1="616.70" x2="188.72" y2="767.70" stroke="#c0c0c0" stroke-width="0.8" stroke-dasharray="3,1" />
<line x1="191.20" y1="616.70" x2="191.20" y2="767.70" stroke="#c0c0c0" stroke-width="0.8" stroke-dasharray="3,1" />
<line x1="193.40" y1="616.70" x2="193.40" y2="767.70" stroke="#c0c0c0" stroke-width="0.8" stroke-dasharray="3,1" />
<line x1="195.36" y1="616.70" x2="195.36" y2="767.70" stroke="#a0a0a0" stroke-width="0.9" stroke-dasharray="3,1" />
<line x1="208.27" y1="616.70" x2="208.27" y2="767.70" stroke="#c0c0c0" stroke-width="0.8" stroke-dasharray="3,1" />
<line x1="215.82" y1="616.70" x2="215.82" y2="767.70" stroke="#c0c0c0" stroke-width="0.8" stroke-dasharray="3,1" />
<line x1="221.18" y1="616.70" x2="221.18" y2="767.70" stroke="#c0c0c0" stroke-width="0.8" stroke-dasharray="3,1" />
<line x1="225.33" y1="616.70" x2="225.33" y2="767.70" stroke="#c0c0c0" stroke-width="0.8" stroke-dasharray="3,1" />
<line x1="228.73" y1="616.70" x2="228.73" y2="767.70" stroke="#c0c0c0" stroke-width="0.8" stroke-dasharray="3,1" />
<line x1="231.60" y1="616.70" x2="231.60" y2="767.70" stroke="#c0c0c0" stroke-width="0.8" stroke-dasharray="3,1" />
<line x1="234.08" y1="616.70" x2="234.08" y2="767.70" stroke="#c0c0c0" stroke-width="0.8" stroke-dasharray="3,1" />
<line x1="236.28" y1="616.70" x2="236.28" y2="767.70" stroke="#c0c0c0" stroke-width="0.8" stroke-dasharray="3,1" />
<line x1="238.24" y1="616.70" x2="238.24" y2="767.70" stroke="#a0a0a0" stroke-width="0.9" stroke-dasharray="3,1" />
<line x1="251.15" y1="616.70" x2="251.15" y2="767.70" stroke="#c0c0c0" stroke-width="0.8" stroke-dasharray="3,1" />
<line x1="258.70" y1="616.70" x2="258.70" y2="767.70" stroke="#c0c0c0" stroke-width="0.8" stroke-dasharray="3,1" />
<line x1="264.06" y1="616.70" x2="264.06" y2="767.70" stroke="#c0c0c0" stroke-width="0.8" stroke-dasharray="3,1" />
<line x1="268.21" y1="616.70" x2="268.21" y2="767.70" stroke="#c0c0c0" stroke-width="0.8" stroke-dasharray="3,1" />
<line x1="271.61" y1="616.70" x2="271.61" y2="767.70" stroke="#c0c0c0" stroke-width="0.8" stroke-dasharray="3,1" />
<line x1="274.48" y1="616.70" x2="274.48" y2="767.70" stroke="#c0c0c0" stroke-width="0.8" stroke-dasharray="3,1" />
<line x1="276.96" y1="616.70" x2="276.96" y2="767.70" stroke="#c0c0c0" stroke-width="0.8" stroke-dasharray="3,1" />
<line x1="279.16" y1="616.70" x2="279.16" y2="767.70" stroke="#c0c0c0" stroke-width="0.8" stroke-dasharray="3,1" />
<line x1="281.12" y1="616.70" x2="281.12" y2="767.70" stroke="#a0a0a0" stroke-width="0.9" stroke-dasharray="3,1" />
<line x1="294.03" y1="616.70" x2="294.03" y2="767.70" stroke="#c0c0c0" stroke-width="0.8" stroke-dasharray="3,1" />
<line x1="301.58" y1="616.70" x2="301.58" y2="767.70" stroke="#c0c0c0" stroke-width="0.8" stroke-dasharray="3,1" />
<line x1="306.94" y1="616.70" x2="306.94" y2="767.70" stroke="#c0c0c0" stroke-width="0.8" stroke-dasharray="3,1" />
<line x1="311.09" y1="616.70" x2="311.09" y2="767.70" stroke="#c0c0c0" stroke-width="0.8" stroke-dasharray="3,1" />
<line x1="314.49" y1="616.70" x2="314.49" y2="767.70" stroke="#c0c0c0" stroke-width="0.8" stroke-dasharray="3,1" />
<line x1="317.36" y1="616.70" x2="317.36" y2="767.70" stroke="#c0c0c0" stroke-width="0.8" stroke-dasharray="3,1" />
<line x1="319.84" y1="616.70" x2="319.84" y2="767.70" stroke="#c0c0c0" stroke-width="0.8" stroke-dasharray="3,1" />
<line x1="322.04" y1="616.70" x2="322.04" y2="767.70" stroke="#c0c0c0" stroke-width="0.8" stroke-dasharray="3,1" />
<line x1="109.60" y1="752.55" x2="324.00" y2="752.55" stroke="#c0c0c0" stroke-width="0.8" stroke-dasharray="3,1" />
<line x1="109.60" y1="743.69" x2="324.00" y2="743.69" stroke="#c0c0c0" stroke-width="0.8" stroke-dasharray="3,1" />
<line x1="109.60" y1="737.40" x2="324.00" y2="737.40" stroke="#c0c0c0" stroke-width="0.8" stroke-dasharray="3,1" />
<line x1="109.60" y1="732.52" x2="324.00" y2="732.52" stroke="#c0c0c0" stroke-width="0.8" stroke-dasharray="3,1" />
<line x1="109.60" y1="728.54" x2="324.00" y2="728.54" stroke="#c0c0c0" stroke-width="0.8" stroke-dasharray="3,1" />
<line x1="109.60" y1="725.17" x2="324.00" y2="725.17" stroke="#c0c0c0" stroke-width="0.8" stroke-dasharray="3,1" />
<line x1="109.60" y1="722.25" x2="324.00" y2="722.25" stroke="#c0c0c0" stroke-width="0.8" stroke-dasharray="3,1" />
<line x1="109.60" y1="719.67" x2="324.00" y2="719.67" stroke="#c0c0c0" stroke-width="0.8" stroke-dasharray="3,1" />
<line x1="109.60" y1="717.37" x2="324.00" y2="717.37" stroke="#a0a0a0" stroke-width="0.9" stroke-dasharray="3,1" />
<line x1="109.60" y1="702.22" x2="324.00" y2="702.22" stroke="#c0c0c0" stroke-width="0.8" stroke-dasharray="3,1" />
<line x1="109.60" y1="693.36" x2="324.00" y2="693.36" stroke="#c0c0c0" stroke-width="0.8" stroke-dasharray="3,1" />
<line x1="109.60" y1="687.07" x2="324.00" y2="687.07" stroke="#c0c0c0" stroke-width="0.8" stroke-dasharray="3,1" />
<line x1="109.60" y1="682.19" x2="324.00" y2="682.19" stroke="#c0c0c0" stroke-width="0.8" stroke-dasharray="3,1" />
<line x1="109.60" y1="678.21" x2="324.00" y2="678.21" stroke="#c0c0c0" stroke-width="0.8" stroke-dasharray="3,1" />
<line x1="109.60" y1="674.84" x2="324.00" y2="674.84" stroke="#c0c0c0" stroke-width="0.8" stroke-dasharray="3,1" />
<line x1="109.60" y1="671.92" x2="324.00" y2="671.92" stroke="#c0c0c0" stroke-width="0.8" stroke-dasharray="3,1" />
<line x1="109.60" y1="669.34" x2="324.00" y2="669.34" stroke="#c0c0c0" stroke-width="0.8" stroke-dasharray="3,1" />
<line x1="109.60" y1="667.04" x2="324.00" y2="667.04" stroke="#a0a0a0" stroke-width="0.9" stroke-dasharray="3,1" />
<line x1="109.60" y1="651.89" x2="324.00" y2="651.89" stroke="#c0c0c0" stroke-width="0.8" stroke-dasharray="3,1" />
<line x1="109.60" y1="643.03" x2="324.00" y2="643.03" stroke="#c0c0c0" stroke-width="0.8" stroke-dasharray="3,1" />
<line x1="109.60" y1="636.74" x2="324.00" y2="636.74" stroke="#c0c0c0" stroke-width="0.8" stroke-dasharray="3,1" />
<line x1="109.60" y1="631.86" x2="324.00" y2="631.86" stroke="#c0c0c0" stroke-width="0.8" stroke-dasharray="3,1" />
<line x1="109.60" y1="627.88" x2="324.00" y2="627.88" stroke="#c0c0c0" stroke-width="0.8" stroke-dasharray="3,1" />
<line x1="109.60" y1="624.51" x2="324.00" y2="624.51" stroke="#c0c0c0" stroke-width="0.8" stroke-dasharray="3,1" />
<line x1="109.60" y1="621.59" x2="324.00" y2="621.59" stroke="#c0c0c0" stroke-width="0.8" stroke-dasharray="3,1" />
<line x1="109.60" y1="619.01" x2="324.00" y2="619.01" stroke="#c0c0c0" stroke-width="0.8" stroke-dasharray="3,1" />
<line x1="109.60" y1="616.70" x2="324.00" y2="616.70" stroke="#666" stroke-width="1.0" />
<line x1="324.00" y1="616.70" x2="324.00" y2="767.70" stroke="#999" stroke-width="1.0" />
<line x1="109.60" y1="616.10" x2="109.60" y2="768.50" stroke="#333" stroke-width="1.6" />
<line x1="108.80" y1="767.70" x2="324.60" y2="767.70" stroke="#333" stroke-width="1.6" />
<line x1="106.10" y1="767.70" x2="109.60" y2="767.70" stroke="#333" stroke-width="1" />
<line x1="106.10" y1="717.37" x2="109.60" y2="717.37" stroke="#333" stroke-width="1" />
<line x1="106.10" y1="667.04" x2="109.60" y2="667.04" stroke="#333" stroke-width="1" />
<line x1="106.10" y1="616.71" x2="109.60" y2="616.71" stroke="#333" stroke-width="1" />
<line x1="109.60" y1="767.70" x2="109.60" y2="770.70" stroke="#333" stroke-width="1" />
<line x1="152.48" y1="767.70" x2="152.48" y2="770.70" stroke="#333" stroke-width="1" />
<line x1="195.36" y1="767.70" x2="195.36" y2="770.70" stroke="#333" stroke-width="1" />
<line x1="238.24" y1="767.70" x2="238.24" y2="770.70" stroke="#333" stroke-width="1" />
<line x1="281.12" y1="767.70" x2="281.12" y2="770.70" stroke="#333" stroke-width="1" />
<line x1="324.00" y1="767.70" x2="324.00" y2="770.70" stroke="#333" stroke-width="1" />
<clipPath id="c11"><rect x="109.6" y="614.7" width="214.4" height="153.0"/></clipPath>
<polyline points="108.60,683.15 109.10,683.15 109.60,683.15 110.10,683.14 110.60,683.14 111.10,683.13 111.60,683.13 112.10,683.12 112.60,683.12 113.10,683.11 113.60,683.11 114.10,683.10 114.60,683.10 115.10,683.09 115.60,683.09 116.10,683.08 116.60,683.08 117.10,683.07 117.60,683.06 118.10,683.06 118.60,683.05 119.10,683.04 119.60,683.04 120.10,683.03 120.60,683.02 121.10,683.01 121.60,683.01 122.10,683.00 122.60,682.99 123.10,682.98 123.60,682.97 124.10,682.97 124.60,682.96 125.10,682.95 125.60,682.94 126.10,682.93 126.60,682.92 127.10,682.91 127.60,682.90 128.10,682.89 128.60,682.88 129.10,682.87 129.60,682.86 130.10,682.84 130.60,682.83 131.10,682.82 131.60,682.81 132.10,682.79 132.60,682.78 133.10,682.77 133.60,682.75 134.10,682.74 134.60,682.73 135.10,682.71 135.60,682.70 136.10,682.68 136.60,682.66 137.10,682.65 137.60,682.63 138.10,682.61 138.60,682.60 139.10,682.58 139.60,682.56 140.10,682.54 140.60,682.52 141.10,682.50 141.60,682.48 142.10,682.46 142.60,682.44 143.10,682.42 143.60,682.40 144.10,682.38 144.60,682.35 145.10,682.33 145.60,682.31 146.10,682.28 146.60,682.26 147.10,682.23 147.60,682.20 148.10,682.18 148.60,682.15 149.10,682.12 149.60,682.09 150.10,682.07 150.60,682.04 151.10,682.01 151.60,681.97 152.10,681.94 152.60,681.91 153.10,681.88 153.60,681.85 154.10,681.81 154.60,681.78 155.10,681.74 155.60,681.71 156.10,681.67 156.60,681.63 157.10,681.59 157.60,681.56 158.10,681.52 158.60,681.48 159.10,681.44 159.60,681.39 160.10,681.35 160.60,681.31 161.10,681.27 161.60,681.22 162.10,681.18 162.60,681.13 163.10,681.09 163.60,681.04 164.10,680.99 164.60,680.94 165.10,680.89 165.60,680.84 166.10,680.79 166.60,680.74 167.10,680.69 167.60,680.64 168.10,680.58 168.60,680.53 169.10,680.48 169.60,680.42 170.10,680.36 170.60,680.31 171.10,680.25 171.60,680.19 172.10,680.13 172.60,680.08 173.10,680.02 173.60,679.96 174.10,679.89 174.60,679.83 175.10,679.77 175.60,679.71 176.10,679.65 176.60,679.58 177.10,679.52 177.60,679.45 178.10,679.39 178.60,679.32 179.10,679.26 179.60,679.19 180.10,679.13 180.60,679.06 181.10,678.99 181.60,678.92 182.10,678.85 182.60,678.79 183.10,678.72 183.60,678.65 184.10,678.58 184.60,678.51 185.10,678.44 185.60,678.37 186.10,678.30 186.60,678.23 187.10,678.15 187.60,678.08 188.10,678.01 188.60,677.94 189.10,677.86 189.60,677.79 190.10,677.72 190.60,677.64 191.10,677.57 191.60,677.50 192.10,677.42 192.60,677.35 193.10,677.27 193.60,677.20 194.10,677.12 194.60,677.04 195.10,676.97 195.60,676.89 196.10,676.81 196.60,676.74 197.10,676.66 197.60,676.58 198.10,676.50 198.60,676.42 199.10,676.34 199.60,676.26 200.10,676.18 200.60,676.10 201.10,676.01 201.60,675.93 202.10,675.85 202.60,675.76 203.10,675.68 203.60,675.59 204.10,675.51 204.60,675.42 205.10,675.33 205.60,675.25 206.10,675.16 206.60,675.07 207.10,674.98 207.60,674.89 208.10,674.80 208.60,674.71 209.10,674.62 209.60,674.53 210.10,674.44 210.60,674.34 211.10,674.25 211.60,674.16 212.10,674.07 212.60,673.97 213.10,673.88 213.60,673.79 214.10,673.69 214.60,673.60 215.10,673.50 215.60,673.41 216.10,673.32 216.60,673.22 217.10,673.13 217.60,673.03 218.10,672.94 218.60,672.85 219.10,672.76 219.60,672.66 220.10,672.57 220.60,672.48 221.10,672.39 221.60,672.30 222.10,672.21 222.60,672.13 223.10,672.04 223.60,671.95 224.10,671.87 224.60,671.78 225.10,671.70 225.60,671.61 226.10,671.53 226.60,671.45 227.10,671.37 227.60,671.30 228.10,671.22 228.60,671.14 229.10,671.07 229.60,671.00 230.10,670.92 230.60,670.85 231.10,670.78 231.60,670.72 232.10,670.65 232.60,670.58 233.10,670.52 233.60,670.46 234.10,670.40 234.60,670.34 235.10,670.28 235.60,670.22 236.10,670.16 236.60,670.11 237.10,670.05 237.60,670.00 238.10,669.95 238.60,669.90 239.10,669.85 239.60,669.80 240.10,669.75 240.60,669.71 241.10,669.66 241.60,669.62 242.10,669.57 242.60,669.53 243.10,669.48 243.60,669.44 244.10,669.40 244.60,669.36 245.10,669.32 245.60,669.28 246.10,669.24 246.60,669.20 247.10,669.16 247.60,669.12 248.10,669.08 248.60,669.04 249.10,669.00 249.60,668.96 250.10,668.92 250.60,668.88 251.10,668.85 251.60,668.81 252.10,668.77 252.60,668.73 253.10,668.69 253.60,668.65 254.10,668.61 254.60,668.58 255.10,668.54 255.60,668.50 256.10,668.46 256.60,668.42 257.10,668.39 257.60,668.35 258.10,668.31 258.60,668.27 259.10,668.23 259.60,668.20 260.10,668.16 260.60,668.12 261.10,668.09 261.60,668.05 262.10,668.02 262.60,667.98 263.10,667.95 263.60,667.91 264.10,667.88 264.60,667.84 265.10,667.81 265.60,667.78 266.10,667.75 266.60,667.71 267.10,667.68 267.60,667.65 268.10,667.62 268.60,667.60 269.10,667.57 269.60,667.54 270.10,667.51 270.60,667.49 271.10,667.46 271.60,667.44 272.10,667.41 272.60,667.39 273.10,667.37 273.60,667.35 274.10,667.33 274.60,667.31 275.10,667.29 275.60,667.27 276.10,667.26 276.60,667.24 277.10,667.23 277.60,667.21 278.10,667.20 278.60,667.18 279.10,667.17 279.60,667.16 280.10,667.15 280.60,667.14 281.10,667.13 281.60,667.12 282.10,667.11 282.60,667.11 283.10,667.10 283.60,667.09 284.10,667.09 284.60,667.08 285.10,667.08 285.60,667.07 286.10,667.07 286.60,667.07 287.10,667.06 287.60,667.06 288.10,667.06 288.60,667.05 289.10,667.05 289.60,667.05 290.10,667.05 290.60,667.05 291.10,667.05 291.60,667.05 292.10,667.04 292.60,667.04 293.10,667.04 293.60,667.04 294.10,667.04 294.60,667.04 295.10,667.04 295.60,667.04 296.10,667.04 296.60,667.04 297.10,667.04 297.60,667.04 298.10,667.04 298.60,667.04 299.10,667.04 299.60,667.04 300.10,667.04 300.60,667.04 301.10,667.04 301.60,667.04 302.10,667.04 302.60,667.04 303.10,667.04 303.60,667.04 304.10,667.04 304.60,667.04 305.10,667.04 305.60,667.04 306.10,667.04 306.60,667.04 307.10,667.04 307.60,667.04 308.10,667.04 308.60,667.04 309.10,667.04 309.60,667.04 310.10,667.04 310.60,667.04 311.10,667.04 311.60,667.04 312.10,667.04 312.60,667.04 313.10,667.04 313.60,667.04 314.10,667.04 314.60,667.04 315.10,667.04 315.60,667.04 316.10,667.04 316.60,667.04 317.10,667.04 317.60,667.04 318.10,667.04 318.60,667.04 319.10,667.04 319.60,667.04 320.10,667.04 320.60,667.04 321.10,667.04 321.60,667.04 322.10,667.04 322.60,667.04 323.10,667.04 323.60,667.04 324.10,667.04" fill="none" stroke="#111" stroke-width="1.4" stroke-linejoin="round" clip-path="url(#c11)"/>
<polyline points="108.60,693.73 109.10,693.72 109.60,693.71 110.10,693.70 110.60,693.69 111.10,693.69 111.60,693.68 112.10,693.66 112.60,693.65 113.10,693.64 113.60,693.63 114.10,693.62 114.60,693.61 115.10,693.60 115.60,693.59 116.10,693.57 116.60,693.56 117.10,693.55 117.60,693.53 118.10,693.52 118.60,693.50 119.10,693.49 119.60,693.48 120.10,693.46 120.60,693.44 121.10,693.43 121.60,693.41 122.10,693.39 122.60,693.38 123.10,693.36 123.60,693.34 124.10,693.32 124.60,693.30 125.10,693.28 125.60,693.26 126.10,693.24 126.60,693.22 127.10,693.20 127.60,693.18 128.10,693.15 128.60,693.13 129.10,693.11 129.60,693.08 130.10,693.06 130.60,693.03 131.10,693.01 131.60,692.98 132.10,692.95 132.60,692.92 133.10,692.89 133.60,692.86 134.10,692.83 134.60,692.80 135.10,692.77 135.60,692.74 136.10,692.71 136.60,692.67 137.10,692.64 137.60,692.60 138.10,692.56 138.60,692.53 139.10,692.49 139.60,692.45 140.10,692.41 140.60,692.37 141.10,692.33 141.60,692.29 142.10,692.24 142.60,692.20 143.10,692.15 143.60,692.11 144.10,692.06 144.60,692.01 145.10,691.96 145.60,691.91 146.10,691.86 146.60,691.81 147.10,691.75 147.60,691.70 148.10,691.64 148.60,691.59 149.10,691.53 149.60,691.47 150.10,691.41 150.60,691.35 151.10,691.29 151.60,691.22 152.10,691.16 152.60,691.09 153.10,691.03 153.60,690.96 154.10,690.89 154.60,690.82 155.10,690.75 155.60,690.67 156.10,690.60 156.60,690.52 157.10,690.45 157.60,690.37 158.10,690.29 158.60,690.21 159.10,690.13 159.60,690.04 160.10,689.96 160.60,689.87 161.10,689.79 161.60,689.70 162.10,689.61 162.60,689.52 163.10,689.43 163.60,689.33 164.10,689.24 164.60,689.14 165.10,689.05 165.60,688.95 166.10,688.85 166.60,688.75 167.10,688.65 167.60,688.55 168.10,688.44 168.60,688.34 169.10,688.23 169.60,688.13 170.10,688.02 170.60,687.91 171.10,687.80 171.60,687.69 172.10,687.58 172.60,687.47 173.10,687.36 173.60,687.24 174.10,687.13 174.60,687.01 175.10,686.90 175.60,686.78 176.10,686.66 176.60,686.54 177.10,686.43 177.60,686.31 178.10,686.19 178.60,686.07 179.10,685.95 179.60,685.82 180.10,685.70 180.60,685.58 181.10,685.46 181.60,685.33 182.10,685.21 182.60,685.09 183.10,684.96 183.60,684.84 184.10,684.71 184.60,684.59 185.10,684.46 185.60,684.34 186.10,684.21 186.60,684.08 187.10,683.96 187.60,683.83 188.10,683.71 188.60,683.58 189.10,683.45 189.60,683.32 190.10,683.20 190.60,683.07 191.10,682.94 191.60,682.81 192.10,682.68 192.60,682.56 193.10,682.43 193.60,682.30 194.10,682.17 194.60,682.04 195.10,681.91 195.60,681.78 196.10,681.65 196.60,681.52 197.10,681.39 197.60,681.25 198.10,681.12 198.60,680.99 199.10,680.85 199.60,680.72 200.10,680.59 200.60,680.45 201.10,680.31 201.60,680.18 202.10,680.04 202.60,679.90 203.10,679.77 203.60,679.63 204.10,679.49 204.60,679.35 205.10,679.21 205.60,679.07 206.10,678.93 206.60,678.78 207.10,678.64 207.60,678.50 208.10,678.35 208.60,678.21 209.10,678.07 209.60,677.92 210.10,677.78 210.60,677.63 211.10,677.49 211.60,677.34 212.10,677.20 212.60,677.05 213.10,676.90 213.60,676.76 214.10,676.61 214.60,676.47 215.10,676.32 215.60,676.18 216.10,676.04 216.60,675.89 217.10,675.75 217.60,675.61 218.10,675.47 218.60,675.33 219.10,675.19 219.60,675.05 220.10,674.91 220.60,674.77 221.10,674.64 221.60,674.50 222.10,674.37 222.60,674.24 223.10,674.11 223.60,673.98 224.10,673.85 224.60,673.73 225.10,673.61 225.60,673.48 226.10,673.36 226.60,673.25 227.10,673.13 227.60,673.01 228.10,672.90 228.60,672.79 229.10,672.68 229.60,672.58 230.10,672.47 230.60,672.37 231.10,672.27 231.60,672.17 232.10,672.08 232.60,671.98 233.10,671.89 233.60,671.80 234.10,671.71 234.60,671.62 235.10,671.54 235.60,671.46 236.10,671.38 236.60,671.30 237.10,671.22 237.60,671.15 238.10,671.07 238.60,671.00 239.10,670.93 239.60,670.86 240.10,670.79 240.60,670.73 241.10,670.66 241.60,670.60 242.10,670.54 242.60,670.47 243.10,670.41 243.60,670.35 244.10,670.30 244.60,670.24 245.10,670.18 245.60,670.12 246.10,670.07 246.60,670.01 247.10,669.95 247.60,669.90 248.10,669.84 248.60,669.79 249.10,669.73 249.60,669.68 250.10,669.63 250.60,669.57 251.10,669.52 251.60,669.46 252.10,669.41 252.60,669.36 253.10,669.30 253.60,669.25 254.10,669.20 254.60,669.14 255.10,669.09 255.60,669.04 256.10,668.98 256.60,668.93 257.10,668.88 257.60,668.83 258.10,668.78 258.60,668.72 259.10,668.67 259.60,668.62 260.10,668.57 260.60,668.52 261.10,668.47 261.60,668.42 262.10,668.37 262.60,668.32 263.10,668.27 263.60,668.23 264.10,668.18 264.60,668.13 265.10,668.09 265.60,668.04 266.10,668.00 266.60,667.96 267.10,667.91 267.60,667.87 268.10,667.83 268.60,667.79 269.10,667.76 269.60,667.72 270.10,667.68 270.60,667.65 271.10,667.61 271.60,667.58 272.10,667.55 272.60,667.52 273.10,667.49 273.60,667.46 274.10,667.43 274.60,667.41 275.10,667.38 275.60,667.36 276.10,667.33 276.60,667.31 277.10,667.29 277.60,667.27 278.10,667.25 278.60,667.24 279.10,667.22 279.60,667.20 280.10,667.19 280.60,667.18 281.10,667.16 281.60,667.15 282.10,667.14 282.60,667.13 283.10,667.12 283.60,667.11 284.10,667.10 284.60,667.10 285.10,667.09 285.60,667.08 286.10,667.08 286.60,667.07 287.10,667.07 287.60,667.07 288.10,667.06 288.60,667.06 289.10,667.06 289.60,667.05 290.10,667.05 290.60,667.05 291.10,667.05 291.60,667.05 292.10,667.05 292.60,667.05 293.10,667.04 293.60,667.04 294.10,667.04 294.60,667.04 295.10,667.04 295.60,667.04 296.10,667.04 296.60,667.04 297.10,667.04 297.60,667.04 298.10,667.04 298.60,667.04 299.10,667.04 299.60,667.04 300.10,667.04 300.60,667.04 301.10,667.04 301.60,667.04 302.10,667.04 302.60,667.04 303.10,667.04 303.60,667.04 304.10,667.04 304.60,667.04 305.10,667.04 305.60,667.04 306.10,667.04 306.60,667.04 307.10,667.04 307.60,667.04 308.10,667.04 308.60,667.04 309.10,667.04 309.60,667.04 310.10,667.04 310.60,667.04 311.10,667.04 311.60,667.04 312.10,667.04 312.60,667.04 313.10,667.04 313.60,667.04 314.10,667.04 314.60,667.04 315.10,667.04 315.60,667.04 316.10,667.04 316.60,667.04 317.10,667.04 317.60,667.04 318.10,667.04 318.60,667.04 319.10,667.04 319.60,667.04 320.10,667.04 320.60,667.04 321.10,667.04 321.60,667.04 322.10,667.04 322.60,667.04 323.10,667.04 323.60,667.04 324.10,667.04" fill="none" stroke="#111" stroke-width="1.4" stroke-linejoin="round" clip-path="url(#c11)"/>
<polyline points="108.60,717.43 109.10,717.40 109.60,717.36 110.10,717.33 110.60,717.29 111.10,717.26 111.60,717.22 112.10,717.18 112.60,717.14 113.10,717.10 113.60,717.06 114.10,717.02 114.60,716.98 115.10,716.93 115.60,716.89 116.10,716.84 116.60,716.79 117.10,716.74 117.60,716.69 118.10,716.64 118.60,716.59 119.10,716.54 119.60,716.48 120.10,716.42 120.60,716.37 121.10,716.31 121.60,716.25 122.10,716.19 122.60,716.12 123.10,716.06 123.60,715.99 124.10,715.93 124.60,715.86 125.10,715.79 125.60,715.71 126.10,715.64 126.60,715.56 127.10,715.49 127.60,715.41 128.10,715.33 128.60,715.25 129.10,715.16 129.60,715.08 130.10,714.99 130.60,714.90 131.10,714.81 131.60,714.72 132.10,714.62 132.60,714.52 133.10,714.42 133.60,714.32 134.10,714.22 134.60,714.11 135.10,714.01 135.60,713.90 136.10,713.79 136.60,713.67 137.10,713.56 137.60,713.44 138.10,713.32 138.60,713.20 139.10,713.07 139.60,712.94 140.10,712.81 140.60,712.68 141.10,712.55 141.60,712.41 142.10,712.27 142.60,712.13 143.10,711.99 143.60,711.84 144.10,711.69 144.60,711.54 145.10,711.39 145.60,711.23 146.10,711.08 146.60,710.92 147.10,710.75 147.60,710.59 148.10,710.42 148.60,710.25 149.10,710.08 149.60,709.90 150.10,709.72 150.60,709.54 151.10,709.36 151.60,709.18 152.10,708.99 152.60,708.80 153.10,708.61 153.60,708.41 154.10,708.22 154.60,708.02 155.10,707.82 155.60,707.61 156.10,707.41 156.60,707.20 157.10,706.99 157.60,706.78 158.10,706.56 158.60,706.35 159.10,706.13 159.60,705.91 160.10,705.69 160.60,705.46 161.10,705.24 161.60,705.01 162.10,704.78 162.60,704.55 163.10,704.32 163.60,704.08 164.10,703.85 164.60,703.61 165.10,703.37 165.60,703.13 166.10,702.89 166.60,702.65 167.10,702.41 167.60,702.17 168.10,701.92 168.60,701.67 169.10,701.43 169.60,701.18 170.10,700.93 170.60,700.68 171.10,700.43 171.60,700.18 172.10,699.93 172.60,699.68 173.10,699.43 173.60,699.18 174.10,698.93 174.60,698.68 175.10,698.42 175.60,698.17 176.10,697.92 176.60,697.67 177.10,697.42 177.60,697.17 178.10,696.91 178.60,696.66 179.10,696.41 179.60,696.16 180.10,695.92 180.60,695.67 181.10,695.42 181.60,695.17 182.10,694.92 182.60,694.68 183.10,694.43 183.60,694.19 184.10,693.94 184.60,693.70 185.10,693.46 185.60,693.22 186.10,692.98 186.60,692.74 187.10,692.50 187.60,692.26 188.10,692.02 188.60,691.79 189.10,691.55 189.60,691.32 190.10,691.08 190.60,690.85 191.10,690.62 191.60,690.39 192.10,690.15 192.60,689.92 193.10,689.69 193.60,689.46 194.10,689.24 194.60,689.01 195.10,688.78 195.60,688.55 196.10,688.33 196.60,688.10 197.10,687.87 197.60,687.65 198.10,687.42 198.60,687.19 199.10,686.97 199.60,686.74 200.10,686.52 200.60,686.29 201.10,686.06 201.60,685.84 202.10,685.61 202.60,685.39 203.10,685.16 203.60,684.93 204.10,684.71 204.60,684.48 205.10,684.26 205.60,684.03 206.10,683.80 206.60,683.58 207.10,683.35 207.60,683.12 208.10,682.90 208.60,682.67 209.10,682.45 209.60,682.22 210.10,682.00 210.60,681.77 211.10,681.55 211.60,681.33 212.10,681.10 212.60,680.88 213.10,680.66 213.60,680.44 214.10,680.22 214.60,680.00 215.10,679.79 215.60,679.57 216.10,679.36 216.60,679.14 217.10,678.93 217.60,678.72 218.10,678.52 218.60,678.31 219.10,678.11 219.60,677.90 220.10,677.70 220.60,677.51 221.10,677.31 221.60,677.12 222.10,676.93 222.60,676.74 223.10,676.55 223.60,676.37 224.10,676.19 224.60,676.01 225.10,675.84 225.60,675.66 226.10,675.49 226.60,675.33 227.10,675.16 227.60,675.00 228.10,674.85 228.60,674.69 229.10,674.54 229.60,674.39 230.10,674.25 230.60,674.11 231.10,673.97 231.60,673.83 232.10,673.70 232.60,673.57 233.10,673.45 233.60,673.32 234.10,673.20 234.60,673.08 235.10,672.97 235.60,672.86 236.10,672.75 236.60,672.64 237.10,672.54 237.60,672.44 238.10,672.34 238.60,672.24 239.10,672.14 239.60,672.05 240.10,671.96 240.60,671.87 241.10,671.78 241.60,671.70 242.10,671.61 242.60,671.53 243.10,671.45 243.60,671.37 244.10,671.29 244.60,671.21 245.10,671.13 245.60,671.06 246.10,670.98 246.60,670.91 247.10,670.83 247.60,670.76 248.10,670.69 248.60,670.62 249.10,670.54 249.60,670.47 250.10,670.40 250.60,670.33 251.10,670.26 251.60,670.19 252.10,670.12 252.60,670.04 253.10,669.97 253.60,669.90 254.10,669.83 254.60,669.76 255.10,669.69 255.60,669.62 256.10,669.56 256.60,669.49 257.10,669.42 257.60,669.35 258.10,669.28 258.60,669.21 259.10,669.15 259.60,669.08 260.10,669.01 260.60,668.95 261.10,668.88 261.60,668.82 262.10,668.75 262.60,668.69 263.10,668.63 263.60,668.57 264.10,668.51 264.60,668.45 265.10,668.39 265.60,668.33 266.10,668.27 266.60,668.22 267.10,668.16 267.60,668.11 268.10,668.06 268.60,668.01 269.10,667.96 269.60,667.91 270.10,667.86 270.60,667.82 271.10,667.77 271.60,667.73 272.10,667.69 272.60,667.65 273.10,667.61 273.60,667.58 274.10,667.54 274.60,667.51 275.10,667.48 275.60,667.44 276.10,667.42 276.60,667.39 277.10,667.36 277.60,667.34 278.10,667.31 278.60,667.29 279.10,667.27 279.60,667.25 280.10,667.23 280.60,667.21 281.10,667.20 281.60,667.18 282.10,667.17 282.60,667.16 283.10,667.14 283.60,667.13 284.10,667.12 284.60,667.11 285.10,667.10 285.60,667.10 286.10,667.09 286.60,667.08 287.10,667.08 287.60,667.07 288.10,667.07 288.60,667.07 289.10,667.06 289.60,667.06 290.10,667.06 290.60,667.05 291.10,667.05 291.60,667.05 292.10,667.05 292.60,667.05 293.10,667.05 293.60,667.04 294.10,667.04 294.60,667.04 295.10,667.04 295.60,667.04 296.10,667.04 296.60,667.04 297.10,667.04 297.60,667.04 298.10,667.04 298.60,667.04 299.10,667.04 299.60,667.04 300.10,667.04 300.60,667.04 301.10,667.04 301.60,667.04 302.10,667.04 302.60,667.04 303.10,667.04 303.60,667.04 304.10,667.04 304.60,667.04 305.10,667.04 305.60,667.04 306.10,667.04 306.60,667.04 307.10,667.04 307.60,667.04 308.10,667.04 308.60,667.04 309.10,667.04 309.60,667.04 310.10,667.04 310.60,667.04 311.10,667.04 311.60,667.04 312.10,667.04 312.60,667.04 313.10,667.04 313.60,667.04 314.10,667.04 314.60,667.04 315.10,667.04 315.60,667.04 316.10,667.04 316.60,667.04 317.10,667.04 317.60,667.04 318.10,667.04 318.60,667.04 319.10,667.04 319.60,667.04 320.10,667.04 320.60,667.04 321.10,667.04 321.60,667.04 322.10,667.04 322.60,667.04 323.10,667.04 323.60,667.04 324.10,667.04" fill="none" stroke="#111" stroke-width="1.4" stroke-linejoin="round" clip-path="url(#c11)"/>
<polyline points="108.60,730.84 109.10,730.77 109.60,730.71 110.10,730.64 110.60,730.57 111.10,730.50 111.60,730.43 112.10,730.36 112.60,730.28 113.10,730.20 113.60,730.12 114.10,730.04 114.60,729.96 115.10,729.88 115.60,729.79 116.10,729.70 116.60,729.61 117.10,729.52 117.60,729.43 118.10,729.33 118.60,729.23 119.10,729.13 119.60,729.03 120.10,728.92 120.60,728.82 121.10,728.71 121.60,728.60 122.10,728.48 122.60,728.37 123.10,728.25 123.60,728.13 124.10,728.00 124.60,727.88 125.10,727.75 125.60,727.62 126.10,727.49 126.60,727.35 127.10,727.21 127.60,727.07 128.10,726.93 128.60,726.78 129.10,726.63 129.60,726.48 130.10,726.32 130.60,726.17 131.10,726.01 131.60,725.84 132.10,725.68 132.60,725.51 133.10,725.34 133.60,725.16 134.10,724.98 134.60,724.80 135.10,724.62 135.60,724.43 136.10,724.24 136.60,724.05 137.10,723.86 137.60,723.66 138.10,723.46 138.60,723.25 139.10,723.04 139.60,722.83 140.10,722.62 140.60,722.40 141.10,722.18 141.60,721.96 142.10,721.74 142.60,721.51 143.10,721.28 143.60,721.04 144.10,720.81 144.60,720.57 145.10,720.32 145.60,720.08 146.10,719.83 146.60,719.58 147.10,719.32 147.60,719.07 148.10,718.81 148.60,718.54 149.10,718.28 149.60,718.01 150.10,717.74 150.60,717.47 151.10,717.19 151.60,716.92 152.10,716.64 152.60,716.36 153.10,716.07 153.60,715.78 154.10,715.50 154.60,715.20 155.10,714.91 155.60,714.62 156.10,714.32 156.60,714.02 157.10,713.72 157.60,713.42 158.10,713.11 158.60,712.81 159.10,712.50 159.60,712.19 160.10,711.88 160.60,711.57 161.10,711.26 161.60,710.94 162.10,710.63 162.60,710.31 163.10,709.99 163.60,709.68 164.10,709.36 164.60,709.04 165.10,708.72 165.60,708.40 166.10,708.08 166.60,707.75 167.10,707.43 167.60,707.11 168.10,706.79 168.60,706.47 169.10,706.14 169.60,705.82 170.10,705.50 170.60,705.18 171.10,704.86 171.60,704.53 172.10,704.21 172.60,703.89 173.10,703.57 173.60,703.26 174.10,702.94 174.60,702.62 175.10,702.30 175.60,701.99 176.10,701.67 176.60,701.36 177.10,701.05 177.60,700.74 178.10,700.43 178.60,700.12 179.10,699.81 179.60,699.50 180.10,699.20 180.60,698.90 181.10,698.59 181.60,698.29 182.10,698.00 182.60,697.70 183.10,697.40 183.60,697.11 184.10,696.82 184.60,696.53 185.10,696.24 185.60,695.95 186.10,695.66 186.60,695.38 187.10,695.09 187.60,694.81 188.10,694.53 188.60,694.26 189.10,693.98 189.60,693.70 190.10,693.43 190.60,693.16 191.10,692.89 191.60,692.62 192.10,692.35 192.60,692.08 193.10,691.81 193.60,691.55 194.10,691.28 194.60,691.02 195.10,690.76 195.60,690.50 196.10,690.24 196.60,689.98 197.10,689.72 197.60,689.46 198.10,689.20 198.60,688.94 199.10,688.68 199.60,688.43 200.10,688.17 200.60,687.92 201.10,687.66 201.60,687.41 202.10,687.15 202.60,686.90 203.10,686.64 203.60,686.39 204.10,686.13 204.60,685.88 205.10,685.63 205.60,685.37 206.10,685.12 206.60,684.87 207.10,684.62 207.60,684.37 208.10,684.12 208.60,683.86 209.10,683.61 209.60,683.37 210.10,683.12 210.60,682.87 211.10,682.62 211.60,682.38 212.10,682.13 212.60,681.89 213.10,681.64 213.60,681.40 214.10,681.16 214.60,680.92 215.10,680.68 215.60,680.45 216.10,680.21 216.60,679.98 217.10,679.75 217.60,679.52 218.10,679.30 218.60,679.07 219.10,678.85 219.60,678.63 220.10,678.41 220.60,678.20 221.10,677.99 221.60,677.78 222.10,677.57 222.60,677.37 223.10,677.17 223.60,676.97 224.10,676.77 224.60,676.58 225.10,676.39 225.60,676.21 226.10,676.02 226.60,675.85 227.10,675.67 227.60,675.50 228.10,675.33 228.60,675.16 229.10,675.00 229.60,674.84 230.10,674.69 230.60,674.54 231.10,674.39 231.60,674.24 232.10,674.10 232.60,673.96 233.10,673.83 233.60,673.70 234.10,673.57 234.60,673.44 235.10,673.32 235.60,673.20 236.10,673.08 236.60,672.97 237.10,672.86 237.60,672.75 238.10,672.64 238.60,672.54 239.10,672.44 239.60,672.34 240.10,672.24 240.60,672.15 241.10,672.05 241.60,671.96 242.10,671.87 242.60,671.78 243.10,671.70 243.60,671.61 244.10,671.53 244.60,671.45 245.10,671.36 245.60,671.28 246.10,671.20 246.60,671.12 247.10,671.05 247.60,670.97 248.10,670.89 248.60,670.81 249.10,670.74 249.60,670.66 250.10,670.58 250.60,670.51 251.10,670.43 251.60,670.36 252.10,670.28 252.60,670.21 253.10,670.13 253.60,670.06 254.10,669.99 254.60,669.91 255.10,669.84 255.60,669.76 256.10,669.69 256.60,669.62 257.10,669.55 257.60,669.47 258.10,669.40 258.60,669.33 259.10,669.26 259.60,669.19 260.10,669.12 260.60,669.05 261.10,668.98 261.60,668.91 262.10,668.84 262.60,668.78 263.10,668.71 263.60,668.65 264.10,668.58 264.60,668.52 265.10,668.46 265.60,668.40 266.10,668.34 266.60,668.28 267.10,668.22 267.60,668.17 268.10,668.11 268.60,668.06 269.10,668.01 269.60,667.96 270.10,667.91 270.60,667.86 271.10,667.81 271.60,667.77 272.10,667.72 272.60,667.68 273.10,667.64 273.60,667.60 274.10,667.57 274.60,667.53 275.10,667.50 275.60,667.47 276.10,667.43 276.60,667.41 277.10,667.38 277.60,667.35 278.10,667.33 278.60,667.30 279.10,667.28 279.60,667.26 280.10,667.24 280.60,667.22 281.10,667.21 281.60,667.19 282.10,667.17 282.60,667.16 283.10,667.15 283.60,667.14 284.10,667.13 284.60,667.12 285.10,667.11 285.60,667.10 286.10,667.09 286.60,667.09 287.10,667.08 287.60,667.08 288.10,667.07 288.60,667.07 289.10,667.06 289.60,667.06 290.10,667.06 290.60,667.05 291.10,667.05 291.60,667.05 292.10,667.05 292.60,667.05 293.10,667.05 293.60,667.04 294.10,667.04 294.60,667.04 295.10,667.04 295.60,667.04 296.10,667.04 296.60,667.04 297.10,667.04 297.60,667.04 298.10,667.04 298.60,667.04 299.10,667.04 299.60,667.04 300.10,667.04 300.60,667.04 301.10,667.04 301.60,667.04 302.10,667.04 302.60,667.04 303.10,667.04 303.60,667.04 304.10,667.04 304.60,667.04 305.10,667.04 305.60,667.04 306.10,667.04 306.60,667.04 307.10,667.04 307.60,667.04 308.10,667.04 308.60,667.04 309.10,667.04 309.60,667.04 310.10,667.04 310.60,667.04 311.10,667.04 311.60,667.04 312.10,667.04 312.60,667.04 313.10,667.04 313.60,667.04 314.10,667.04 314.60,667.04 315.10,667.04 315.60,667.04 316.10,667.04 316.60,667.04 317.10,667.04 317.60,667.04 318.10,667.04 318.60,667.04 319.10,667.04 319.60,667.04 320.10,667.04 320.60,667.04 321.10,667.04 321.60,667.04 322.10,667.04 322.60,667.04 323.10,667.04 323.60,667.04 324.10,667.04" fill="none" stroke="#111" stroke-width="1.4" stroke-linejoin="round" clip-path="url(#c11)"/>
<polyline points="108.60,745.77 109.10,745.64 109.60,745.51 110.10,745.37 110.60,745.23 111.10,745.09 111.60,744.95 112.10,744.80 112.60,744.65 113.10,744.50 113.60,744.34 114.10,744.18 114.60,744.02 115.10,743.86 115.60,743.69 116.10,743.52 116.60,743.35 117.10,743.17 117.60,742.99 118.10,742.80 118.60,742.62 119.10,742.43 119.60,742.23 120.10,742.04 120.60,741.84 121.10,741.63 121.60,741.43 122.10,741.22 122.60,741.00 123.10,740.79 123.60,740.57 124.10,740.34 124.60,740.12 125.10,739.89 125.60,739.65 126.10,739.42 126.60,739.18 127.10,738.93 127.60,738.68 128.10,738.43 128.60,738.18 129.10,737.92 129.60,737.66 130.10,737.39 130.60,737.13 131.10,736.85 131.60,736.58 132.10,736.30 132.60,736.02 133.10,735.73 133.60,735.45 134.10,735.15 134.60,734.86 135.10,734.56 135.60,734.26 136.10,733.96 136.60,733.65 137.10,733.34 137.60,733.02 138.10,732.71 138.60,732.39 139.10,732.06 139.60,731.74 140.10,731.41 140.60,731.08 141.10,730.74 141.60,730.40 142.10,730.06 142.60,729.72 143.10,729.38 143.60,729.03 144.10,728.68 144.60,728.33 145.10,727.97 145.60,727.61 146.10,727.25 146.60,726.89 147.10,726.53 147.60,726.16 148.10,725.79 148.60,725.42 149.10,725.05 149.60,724.68 150.10,724.30 150.60,723.92 151.10,723.54 151.60,723.16 152.10,722.78 152.60,722.40 153.10,722.01 153.60,721.63 154.10,721.24 154.60,720.85 155.10,720.46 155.60,720.07 156.10,719.68 156.60,719.29 157.10,718.90 157.60,718.50 158.10,718.11 158.60,717.71 159.10,717.32 159.60,716.92 160.10,716.53 160.60,716.13 161.10,715.74 161.60,715.34 162.10,714.95 162.60,714.55 163.10,714.16 163.60,713.76 164.10,713.37 164.60,712.97 165.10,712.58 165.60,712.19 166.10,711.80 166.60,711.40 167.10,711.01 167.60,710.62 168.10,710.24 168.60,709.85 169.10,709.46 169.60,709.08 170.10,708.69 170.60,708.31 171.10,707.93 171.60,707.55 172.10,707.17 172.60,706.79 173.10,706.42 173.60,706.05 174.10,705.68 174.60,705.31 175.10,704.94 175.60,704.57 176.10,704.21 176.60,703.85 177.10,703.49 177.60,703.13 178.10,702.78 178.60,702.42 179.10,702.07 179.60,701.72 180.10,701.38 180.60,701.03 181.10,700.69 181.60,700.35 182.10,700.01 182.60,699.68 183.10,699.35 183.60,699.02 184.10,698.69 184.60,698.36 185.10,698.04 185.60,697.72 186.10,697.40 186.60,697.08 187.10,696.77 187.60,696.46 188.10,696.15 188.60,695.84 189.10,695.53 189.60,695.23 190.10,694.93 190.60,694.63 191.10,694.33 191.60,694.03 192.10,693.74 192.60,693.45 193.10,693.15 193.60,692.86 194.10,692.58 194.60,692.29 195.10,692.00 195.60,691.72 196.10,691.43 196.60,691.15 197.10,690.87 197.60,690.59 198.10,690.31 198.60,690.03 199.10,689.76 199.60,689.48 200.10,689.20 200.60,688.93 201.10,688.65 201.60,688.38 202.10,688.10 202.60,687.83 203.10,687.56 203.60,687.29 204.10,687.01 204.60,686.74 205.10,686.47 205.60,686.20 206.10,685.93 206.60,685.66 207.10,685.39 207.60,685.13 208.10,684.86 208.60,684.59 209.10,684.33 209.60,684.06 210.10,683.80 210.60,683.54 211.10,683.27 211.60,683.01 212.10,682.75 212.60,682.49 213.10,682.24 213.60,681.98 214.10,681.73 214.60,681.48 215.10,681.23 215.60,680.98 216.10,680.73 216.60,680.49 217.10,680.24 217.60,680.00 218.10,679.77 218.60,679.53 219.10,679.30 219.60,679.07 220.10,678.84 220.60,678.61 221.10,678.39 221.60,678.17 222.10,677.96 222.60,677.74 223.10,677.53 223.60,677.33 224.10,677.12 224.60,676.92 225.10,676.72 225.60,676.53 226.10,676.34 226.60,676.15 227.10,675.97 227.60,675.79 228.10,675.62 228.60,675.44 229.10,675.28 229.60,675.11 230.10,674.95 230.60,674.79 231.10,674.64 231.60,674.49 232.10,674.34 232.60,674.19 233.10,674.05 233.60,673.92 234.10,673.78 234.60,673.65 235.10,673.52 235.60,673.40 236.10,673.28 236.60,673.16 237.10,673.05 237.60,672.93 238.10,672.82 238.60,672.72 239.10,672.61 239.60,672.51 240.10,672.41 240.60,672.31 241.10,672.21 241.60,672.12 242.10,672.03 242.60,671.93 243.10,671.84 243.60,671.76 244.10,671.67 244.60,671.58 245.10,671.50 245.60,671.42 246.10,671.33 246.60,671.25 247.10,671.17 247.60,671.09 248.10,671.01 248.60,670.93 249.10,670.85 249.60,670.77 250.10,670.69 250.60,670.62 251.10,670.54 251.60,670.46 252.10,670.38 252.60,670.31 253.10,670.23 253.60,670.15 254.10,670.08 254.60,670.00 255.10,669.92 255.60,669.85 256.10,669.77 256.60,669.70 257.10,669.62 257.60,669.55 258.10,669.47 258.60,669.40 259.10,669.32 259.60,669.25 260.10,669.18 260.60,669.11 261.10,669.04 261.60,668.97 262.10,668.90 262.60,668.83 263.10,668.76 263.60,668.69 264.10,668.63 264.60,668.56 265.10,668.50 265.60,668.44 266.10,668.38 266.60,668.31 267.10,668.26 267.60,668.20 268.10,668.14 268.60,668.09 269.10,668.03 269.60,667.98 270.10,667.93 270.60,667.88 271.10,667.83 271.60,667.79 272.10,667.74 272.60,667.70 273.10,667.66 273.60,667.62 274.10,667.58 274.60,667.55 275.10,667.51 275.60,667.48 276.10,667.45 276.60,667.42 277.10,667.39 277.60,667.36 278.10,667.33 278.60,667.31 279.10,667.29 279.60,667.27 280.10,667.25 280.60,667.23 281.10,667.21 281.60,667.19 282.10,667.18 282.60,667.16 283.10,667.15 283.60,667.14 284.10,667.13 284.60,667.12 285.10,667.11 285.60,667.10 286.10,667.09 286.60,667.09 287.10,667.08 287.60,667.08 288.10,667.07 288.60,667.07 289.10,667.06 289.60,667.06 290.10,667.06 290.60,667.05 291.10,667.05 291.60,667.05 292.10,667.05 292.60,667.05 293.10,667.05 293.60,667.05 294.10,667.04 294.60,667.04 295.10,667.04 295.60,667.04 296.10,667.04 296.60,667.04 297.10,667.04 297.60,667.04 298.10,667.04 298.60,667.04 299.10,667.04 299.60,667.04 300.10,667.04 300.60,667.04 301.10,667.04 301.60,667.04 302.10,667.04 302.60,667.04 303.10,667.04 303.60,667.04 304.10,667.04 304.60,667.04 305.10,667.04 305.60,667.04 306.10,667.04 306.60,667.04 307.10,667.04 307.60,667.04 308.10,667.04 308.60,667.04 309.10,667.04 309.60,667.04 310.10,667.04 310.60,667.04 311.10,667.04 311.60,667.04 312.10,667.04 312.60,667.04 313.10,667.04 313.60,667.04 314.10,667.04 314.60,667.04 315.10,667.04 315.60,667.04 316.10,667.04 316.60,667.04 317.10,667.04 317.60,667.04 318.10,667.04 318.60,667.04 319.10,667.04 319.60,667.04 320.10,667.04 320.60,667.04 321.10,667.04 321.60,667.04 322.10,667.04 322.60,667.04 323.10,667.04 323.60,667.04 324.10,667.04" fill="none" stroke="#111" stroke-width="1.4" stroke-linejoin="round" clip-path="url(#c11)"/>
<polyline points="108.60,757.51 109.10,757.28 109.60,757.05 110.10,756.82 110.60,756.59 111.10,756.35 111.60,756.10 112.10,755.85 112.60,755.60 113.10,755.35 113.60,755.09 114.10,754.83 114.60,754.56 115.10,754.29 115.60,754.02 116.10,753.74 116.60,753.46 117.10,753.18 117.60,752.89 118.10,752.60 118.60,752.31 119.10,752.01 119.60,751.71 120.10,751.40 120.60,751.09 121.10,750.78 121.60,750.46 122.10,750.14 122.60,749.82 123.10,749.49 123.60,749.16 124.10,748.82 124.60,748.49 125.10,748.15 125.60,747.80 126.10,747.45 126.60,747.10 127.10,746.75 127.60,746.39 128.10,746.03 128.60,745.67 129.10,745.30 129.60,744.93 130.10,744.56 130.60,744.18 131.10,743.80 131.60,743.42 132.10,743.04 132.60,742.65 133.10,742.26 133.60,741.87 134.10,741.48 134.60,741.08 135.10,740.68 135.60,740.28 136.10,739.87 136.60,739.46 137.10,739.05 137.60,738.64 138.10,738.23 138.60,737.81 139.10,737.39 139.60,736.97 140.10,736.55 140.60,736.13 141.10,735.70 141.60,735.28 142.10,734.85 142.60,734.42 143.10,733.98 143.60,733.55 144.10,733.12 144.60,732.68 145.10,732.24 145.60,731.80 146.10,731.36 146.60,730.92 147.10,730.48 147.60,730.04 148.10,729.59 148.60,729.15 149.10,728.70 149.60,728.25 150.10,727.81 150.60,727.36 151.10,726.91 151.60,726.46 152.10,726.01 152.60,725.57 153.10,725.12 153.60,724.67 154.10,724.22 154.60,723.77 155.10,723.32 155.60,722.87 156.10,722.42 156.60,721.97 157.10,721.52 157.60,721.07 158.10,720.63 158.60,720.18 159.10,719.73 159.60,719.29 160.10,718.84 160.60,718.40 161.10,717.96 161.60,717.51 162.10,717.07 162.60,716.63 163.10,716.19 163.60,715.75 164.10,715.32 164.60,714.88 165.10,714.45 165.60,714.02 166.10,713.58 166.60,713.16 167.10,712.73 167.60,712.30 168.10,711.88 168.60,711.46 169.10,711.04 169.60,710.62 170.10,710.20 170.60,709.79 171.10,709.37 171.60,708.96 172.10,708.56 172.60,708.15 173.10,707.75 173.60,707.35 174.10,706.95 174.60,706.55 175.10,706.16 175.60,705.77 176.10,705.38 176.60,704.99 177.10,704.61 177.60,704.23 178.10,703.85 178.60,703.48 179.10,703.11 179.60,702.74 180.10,702.37 180.60,702.00 181.10,701.64 181.60,701.28 182.10,700.93 182.60,700.58 183.10,700.23 183.60,699.88 184.10,699.53 184.60,699.19 185.10,698.85 185.60,698.51 186.10,698.18 186.60,697.85 187.10,697.52 187.60,697.19 188.10,696.87 188.60,696.55 189.10,696.23 189.60,695.91 190.10,695.59 190.60,695.28 191.10,694.97 191.60,694.66 192.10,694.36 192.60,694.05 193.10,693.75 193.60,693.45 194.10,693.15 194.60,692.85 195.10,692.55 195.60,692.26 196.10,691.96 196.60,691.67 197.10,691.38 197.60,691.09 198.10,690.80 198.60,690.51 199.10,690.23 199.60,689.94 200.10,689.65 200.60,689.37 201.10,689.09 201.60,688.80 202.10,688.52 202.60,688.24 203.10,687.96 203.60,687.68 204.10,687.40 204.60,687.12 205.10,686.84 205.60,686.56 206.10,686.28 206.60,686.01 207.10,685.73 207.60,685.46 208.10,685.18 208.60,684.91 209.10,684.64 209.60,684.36 210.10,684.09 210.60,683.82 211.10,683.56 211.60,683.29 212.10,683.02 212.60,682.76 213.10,682.49 213.60,682.23 214.10,681.97 214.60,681.72 215.10,681.46 215.60,681.21 216.10,680.95 216.60,680.70 217.10,680.46 217.60,680.21 218.10,679.97 218.60,679.73 219.10,679.49 219.60,679.25 220.10,679.02 220.60,678.79 221.10,678.57 221.60,678.34 222.10,678.12 222.60,677.90 223.10,677.69 223.60,677.48 224.10,677.27 224.60,677.07 225.10,676.87 225.60,676.67 226.10,676.48 226.60,676.29 227.10,676.10 227.60,675.92 228.10,675.74 228.60,675.56 229.10,675.39 229.60,675.22 230.10,675.06 230.60,674.90 231.10,674.74 231.60,674.59 232.10,674.44 232.60,674.29 233.10,674.15 233.60,674.01 234.10,673.87 234.60,673.74 235.10,673.61 235.60,673.49 236.10,673.36 236.60,673.24 237.10,673.13 237.60,673.01 238.10,672.90 238.60,672.79 239.10,672.68 239.60,672.58 240.10,672.48 240.60,672.38 241.10,672.28 241.60,672.18 242.10,672.09 242.60,672.00 243.10,671.91 243.60,671.82 244.10,671.73 244.60,671.64 245.10,671.56 245.60,671.47 246.10,671.39 246.60,671.31 247.10,671.22 247.60,671.14 248.10,671.06 248.60,670.98 249.10,670.90 249.60,670.82 250.10,670.74 250.60,670.66 251.10,670.58 251.60,670.50 252.10,670.42 252.60,670.35 253.10,670.27 253.60,670.19 254.10,670.11 254.60,670.04 255.10,669.96 255.60,669.88 256.10,669.80 256.60,669.73 257.10,669.65 257.60,669.58 258.10,669.50 258.60,669.43 259.10,669.35 259.60,669.28 260.10,669.21 260.60,669.13 261.10,669.06 261.60,668.99 262.10,668.92 262.60,668.85 263.10,668.78 263.60,668.71 264.10,668.65 264.60,668.58 265.10,668.52 265.60,668.45 266.10,668.39 266.60,668.33 267.10,668.27 267.60,668.21 268.10,668.16 268.60,668.10 269.10,668.05 269.60,667.99 270.10,667.94 270.60,667.89 271.10,667.84 271.60,667.80 272.10,667.75 272.60,667.71 273.10,667.67 273.60,667.63 274.10,667.59 274.60,667.55 275.10,667.52 275.60,667.48 276.10,667.45 276.60,667.42 277.10,667.39 277.60,667.36 278.10,667.34 278.60,667.31 279.10,667.29 279.60,667.27 280.10,667.25 280.60,667.23 281.10,667.21 281.60,667.20 282.10,667.18 282.60,667.17 283.10,667.15 283.60,667.14 284.10,667.13 284.60,667.12 285.10,667.11 285.60,667.10 286.10,667.10 286.60,667.09 287.10,667.08 287.60,667.08 288.10,667.07 288.60,667.07 289.10,667.06 289.60,667.06 290.10,667.06 290.60,667.05 291.10,667.05 291.60,667.05 292.10,667.05 292.60,667.05 293.10,667.05 293.60,667.05 294.10,667.04 294.60,667.04 295.10,667.04 295.60,667.04 296.10,667.04 296.60,667.04 297.10,667.04 297.60,667.04 298.10,667.04 298.60,667.04 299.10,667.04 299.60,667.04 300.10,667.04 300.60,667.04 301.10,667.04 301.60,667.04 302.10,667.04 302.60,667.04 303.10,667.04 303.60,667.04 304.10,667.04 304.60,667.04 305.10,667.04 305.60,667.04 306.10,667.04 306.60,667.04 307.10,667.04 307.60,667.04 308.10,667.04 308.60,667.04 309.10,667.04 309.60,667.04 310.10,667.04 310.60,667.04 311.10,667.04 311.60,667.04 312.10,667.04 312.60,667.04 313.10,667.04 313.60,667.04 314.10,667.04 314.60,667.04 315.10,667.04 315.60,667.04 316.10,667.04 316.60,667.04 317.10,667.04 317.60,667.04 318.10,667.04 318.60,667.04 319.10,667.04 319.60,667.04 320.10,667.04 320.60,667.04 321.10,667.04 321.60,667.04 322.10,667.04 322.60,667.04 323.10,667.04 323.60,667.04 324.10,667.04" fill="none" stroke="#111" stroke-width="1.4" stroke-linejoin="round" clip-path="url(#c11)"/>
<polyline points="115.10,770.62 115.60,770.04 116.10,769.46 116.60,768.88 117.10,768.31 117.60,767.73 118.10,767.15 118.60,766.58 119.10,766.00 119.60,765.43 120.10,764.85 120.60,764.28 121.10,763.70 121.60,763.13 122.10,762.55 122.60,761.98 123.10,761.41 123.60,760.83 124.10,760.26 124.60,759.69 125.10,759.12 125.60,758.55 126.10,757.98 126.60,757.41 127.10,756.84 127.60,756.27 128.10,755.70 128.60,755.13 129.10,754.56 129.60,753.99 130.10,753.43 130.60,752.86 131.10,752.29 131.60,751.73 132.10,751.16 132.60,750.60 133.10,750.03 133.60,749.47 134.10,748.91 134.60,748.35 135.10,747.79 135.60,747.22 136.10,746.66 136.60,746.11 137.10,745.55 137.60,744.99 138.10,744.43 138.60,743.88 139.10,743.32 139.60,742.77 140.10,742.21 140.60,741.66 141.10,741.11 141.60,740.56 142.10,740.01 142.60,739.46 143.10,738.91 143.60,738.36 144.10,737.82 144.60,737.27 145.10,736.73 145.60,736.18 146.10,735.64 146.60,735.10 147.10,734.56 147.60,734.02 148.10,733.49 148.60,732.95 149.10,732.42 149.60,731.88 150.10,731.35 150.60,730.82 151.10,730.29 151.60,729.76 152.10,729.24 152.60,728.71 153.10,728.19 153.60,727.67 154.10,727.15 154.60,726.63 155.10,726.11 155.60,725.60 156.10,725.09 156.60,724.57 157.10,724.06 157.60,723.56 158.10,723.05 158.60,722.55 159.10,722.05 159.60,721.55 160.10,721.05 160.60,720.55 161.10,720.06 161.60,719.57 162.10,719.08 162.60,718.59 163.10,718.11 163.60,717.62 164.10,717.14 164.60,716.67 165.10,716.19 165.60,715.72 166.10,715.25 166.60,714.78 167.10,714.32 167.60,713.86 168.10,713.40 168.60,712.94 169.10,712.48 169.60,712.03 170.10,711.59 170.60,711.14 171.10,710.70 171.60,710.26 172.10,709.82 172.60,709.39 173.10,708.96 173.60,708.53 174.10,708.10 174.60,707.68 175.10,707.27 175.60,706.85 176.10,706.44 176.60,706.03 177.10,705.62 177.60,705.22 178.10,704.82 178.60,704.43 179.10,704.03 179.60,703.65 180.10,703.26 180.60,702.88 181.10,702.50 181.60,702.12 182.10,701.75 182.60,701.38 183.10,701.01 183.60,700.65 184.10,700.29 184.60,699.93 185.10,699.57 185.60,699.22 186.10,698.87 186.60,698.53 187.10,698.19 187.60,697.85 188.10,697.51 188.60,697.17 189.10,696.84 189.60,696.51 190.10,696.19 190.60,695.86 191.10,695.54 191.60,695.22 192.10,694.90 192.60,694.59 193.10,694.27 193.60,693.96 194.10,693.65 194.60,693.34 195.10,693.04 195.60,692.73 196.10,692.43 196.60,692.13 197.10,691.83 197.60,691.53 198.10,691.23 198.60,690.93 199.10,690.64 199.60,690.34 200.10,690.05 200.60,689.76 201.10,689.47 201.60,689.18 202.10,688.89 202.60,688.60 203.10,688.31 203.60,688.02 204.10,687.73 204.60,687.45 205.10,687.16 205.60,686.88 206.10,686.59 206.60,686.31 207.10,686.03 207.60,685.74 208.10,685.46 208.60,685.18 209.10,684.91 209.60,684.63 210.10,684.35 210.60,684.08 211.10,683.80 211.60,683.53 212.10,683.26 212.60,682.99 213.10,682.72 213.60,682.45 214.10,682.19 214.60,681.92 215.10,681.66 215.60,681.40 216.10,681.15 216.60,680.89 217.10,680.64 217.60,680.39 218.10,680.14 218.60,679.90 219.10,679.66 219.60,679.42 220.10,679.18 220.60,678.95 221.10,678.72 221.60,678.49 222.10,678.26 222.60,678.04 223.10,677.83 223.60,677.61 224.10,677.40 224.60,677.19 225.10,676.99 225.60,676.79 226.10,676.59 226.60,676.40 227.10,676.21 227.60,676.03 228.10,675.84 228.60,675.67 229.10,675.49 229.60,675.32 230.10,675.16 230.60,674.99 231.10,674.83 231.60,674.68 232.10,674.53 232.60,674.38 233.10,674.23 233.60,674.09 234.10,673.95 234.60,673.82 235.10,673.69 235.60,673.56 236.10,673.44 236.60,673.31 237.10,673.20 237.60,673.08 238.10,672.97 238.60,672.86 239.10,672.75 239.60,672.64 240.10,672.54 240.60,672.44 241.10,672.34 241.60,672.24 242.10,672.15 242.60,672.05 243.10,671.96 243.60,671.87 244.10,671.78 244.60,671.69 245.10,671.61 245.60,671.52 246.10,671.44 246.60,671.35 247.10,671.27 247.60,671.19 248.10,671.10 248.60,671.02 249.10,670.94 249.60,670.86 250.10,670.78 250.60,670.70 251.10,670.62 251.60,670.54 252.10,670.46 252.60,670.38 253.10,670.30 253.60,670.22 254.10,670.15 254.60,670.07 255.10,669.99 255.60,669.91 256.10,669.83 256.60,669.76 257.10,669.68 257.60,669.60 258.10,669.53 258.60,669.45 259.10,669.38 259.60,669.30 260.10,669.23 260.60,669.15 261.10,669.08 261.60,669.01 262.10,668.94 262.60,668.87 263.10,668.80 263.60,668.73 264.10,668.66 264.60,668.60 265.10,668.53 265.60,668.47 266.10,668.41 266.60,668.34 267.10,668.28 267.60,668.22 268.10,668.17 268.60,668.11 269.10,668.06 269.60,668.00 270.10,667.95 270.60,667.90 271.10,667.85 271.60,667.81 272.10,667.76 272.60,667.72 273.10,667.67 273.60,667.63 274.10,667.59 274.60,667.56 275.10,667.52 275.60,667.49 276.10,667.45 276.60,667.42 277.10,667.39 277.60,667.37 278.10,667.34 278.60,667.32 279.10,667.29 279.60,667.27 280.10,667.25 280.60,667.23 281.10,667.21 281.60,667.20 282.10,667.18 282.60,667.17 283.10,667.15 283.60,667.14 284.10,667.13 284.60,667.12 285.10,667.11 285.60,667.10 286.10,667.10 286.60,667.09 287.10,667.08 287.60,667.08 288.10,667.07 288.60,667.07 289.10,667.06 289.60,667.06 290.10,667.06 290.60,667.05 291.10,667.05 291.60,667.05 292.10,667.05 292.60,667.05 293.10,667.05 293.60,667.05 294.10,667.04 294.60,667.04 295.10,667.04 295.60,667.04 296.10,667.04 296.60,667.04 297.10,667.04 297.60,667.04 298.10,667.04 298.60,667.04 299.10,667.04 299.60,667.04 300.10,667.04 300.60,667.04 301.10,667.04 301.60,667.04 302.10,667.04 302.60,667.04 303.10,667.04 303.60,667.04 304.10,667.04 304.60,667.04 305.10,667.04 305.60,667.04 306.10,667.04 306.60,667.04 307.10,667.04 307.60,667.04 308.10,667.04 308.60,667.04 309.10,667.04 309.60,667.04 310.10,667.04 310.60,667.04 311.10,667.04 311.60,667.04 312.10,667.04 312.60,667.04 313.10,667.04 313.60,667.04 314.10,667.04 314.60,667.04 315.10,667.04 315.60,667.04 316.10,667.04 316.60,667.04 317.10,667.04 317.60,667.04 318.10,667.04 318.60,667.04 319.10,667.04 319.60,667.04 320.10,667.04 320.60,667.04 321.10,667.04 321.60,667.04 322.10,667.04 322.60,667.04 323.10,667.04 323.60,667.04 324.10,667.04" fill="none" stroke="#111" stroke-width="1.4" stroke-linejoin="round" clip-path="url(#c11)"/>
<text x="103.60" y="620.21" font-family='"Liberation Sans", Arial, sans-serif' font-size="9.5" font-weight="normal" fill="#222" text-anchor="end" stroke="#222" stroke-width="0.2">10</text>
<text x="103.60" y="670.54" font-family='"Liberation Sans", Arial, sans-serif' font-size="9.5" font-weight="normal" fill="#222" text-anchor="end" stroke="#222" stroke-width="0.2">1</text>
<text x="103.60" y="720.87" font-family='"Liberation Sans", Arial, sans-serif' font-size="9.5" font-weight="normal" fill="#222" text-anchor="end" stroke="#222" stroke-width="0.2">0.1</text>
<text x="103.60" y="771.20" font-family='"Liberation Sans", Arial, sans-serif' font-size="9.5" font-weight="normal" fill="#222" text-anchor="end" stroke="#222" stroke-width="0.2">0.01</text>
<text x="109.60" y="782.60" font-family='"Liberation Sans", Arial, sans-serif' font-size="9.5" font-weight="normal" fill="#222" text-anchor="middle" stroke="#222" stroke-width="0.2">0.00001</text>
<text x="152.48" y="782.60" font-family='"Liberation Sans", Arial, sans-serif' font-size="9.5" font-weight="normal" fill="#222" text-anchor="middle" stroke="#222" stroke-width="0.2">0.0001</text>
<text x="195.36" y="782.60" font-family='"Liberation Sans", Arial, sans-serif' font-size="9.5" font-weight="normal" fill="#222" text-anchor="middle" stroke="#222" stroke-width="0.2">0.001</text>
<text x="238.24" y="782.60" font-family='"Liberation Sans", Arial, sans-serif' font-size="9.5" font-weight="normal" fill="#222" text-anchor="middle" stroke="#222" stroke-width="0.2">0.01</text>
<text x="281.12" y="782.60" font-family='"Liberation Sans", Arial, sans-serif' font-size="9.5" font-weight="normal" fill="#222" text-anchor="middle" stroke="#222" stroke-width="0.2">0.1</text>
<text x="324.00" y="782.60" font-family='"Liberation Sans", Arial, sans-serif' font-size="9.5" font-weight="normal" fill="#222" text-anchor="middle" stroke="#222" stroke-width="0.2">1</text>
<text x="126.60" y="627.20" font-family='"Liberation Sans", Arial, sans-serif' font-size="8.2" font-weight="normal" fill="#1a1a1a" text-anchor="start" stroke="#222" stroke-width="0.3" textLength="71.5" lengthAdjust="spacingAndGlyphs">In descending order</text>
<text x="127.00" y="637.50" font-family='"Liberation Sans", Arial, sans-serif' font-size="8.5" font-weight="normal" fill="#222" text-anchor="start" stroke="#222" stroke-width="0.3" textLength="187" lengthAdjust="spacing">D=0.5.&#160; 0.3.&#160; 0.1.&#160; 0.05.&#160; 0.03.&#160; 0.01.&#160; Single Pulse</text>
<polyline points="209.00,726.70 225.70,726.70 225.70,701.20 247.00,701.20 247.00,726.70 268.70,726.70 268.70,701.20 289.50,701.20 289.50,726.70 310.70,726.70" fill="none" stroke="#3a3a3a" stroke-width="1.3" stroke-linejoin="round" />
<line x1="222.40" y1="703.00" x2="222.40" y2="724.00" stroke="#333" stroke-width="0.9" />
<polygon points="222.4,700.6 220.6,705 224.2,705" fill="#333"/><polygon points="222.4,726 220.6,721.8 224.2,721.8" fill="#333"/>
<line x1="227.50" y1="712.00" x2="266.50" y2="712.00" stroke="#333" stroke-width="0.8" />
<polygon points="225.7,712 229.5,710.4 229.5,713.6" fill="#333"/><polygon points="268.4,712 264.6,710.4 264.6,713.6" fill="#333"/>
<line x1="227.50" y1="723.60" x2="245.30" y2="723.60" stroke="#333" stroke-width="0.9" />
<polygon points="225.9,723.6 230,721.8 230,725.4" fill="#333"/><polygon points="246.8,723.6 242.7,721.8 242.7,725.4" fill="#333"/>
<text x="207.00" y="716.00" font-family='"Liberation Sans", Arial, sans-serif' font-size="7" font-weight="normal" fill="#444" text-anchor="start" >P<tspan font-size="4.5" dy="1.5">DM</tspan></text>
<text x="250.50" y="710.00" font-family='"Liberation Sans", Arial, sans-serif' font-size="7.5" font-weight="normal" fill="#444" text-anchor="start" >t2</text>
<text x="233.20" y="732.00" font-family='"Liberation Sans", Arial, sans-serif' font-size="7.5" font-weight="normal" fill="#444" text-anchor="start" >t1</text>
<text x="207.00" y="742.50" font-family='"Liberation Sans", Arial, sans-serif' font-size="9.5" font-weight="normal" fill="#333" text-anchor="start" stroke="#333" stroke-width="0.2">T<tspan font-size="6" dy="1.5">J</tspan><tspan dy="-1.5">-T</tspan><tspan font-size="6" dy="1.5">C</tspan><tspan dy="-1.5">=P</tspan><tspan font-size="6" dy="1.5">DM</tspan><tspan dy="-1.5">*Z</tspan><tspan font-size="5" dy="1.5">thJC</tspan></text>
<text x="207.00" y="753.90" font-family='"Liberation Sans", Arial, sans-serif' font-size="9.5" font-weight="normal" fill="#333" text-anchor="start" stroke="#333" stroke-width="0.2" textLength="88.3" lengthAdjust="spacingAndGlyphs">Duty Factor: D=t1/t2</text>
<text transform="translate(69.2,712.3) rotate(-90)" font-family='"Liberation Sans", Arial, sans-serif' font-size="10.2" font-weight="bold" text-anchor="middle">r(t),Normalized Effective</text>
<text transform="translate(82.7,698.8) rotate(-90)" font-family='"Liberation Sans", Arial, sans-serif' font-size="10.4" font-weight="bold" text-anchor="middle">Transient Thermal Impedance</text>
<text x="135.60" y="799.00" font-family='"Liberation Sans", Arial, sans-serif' font-size="10.5" font-weight="bold" fill="#000" text-anchor="start" textLength="167.5" lengthAdjust="spacingAndGlyphs">Square Wave Pluse Duration(sec)</text>
<text x="108.30" y="820.80" font-family='"Liberation Sans", Arial, sans-serif' font-size="10" font-weight="bold" fill="#000" text-anchor="start" textLength="229.5" lengthAdjust="spacingAndGlyphs">Figure 11. Transient Thermal Response Curve</text>
</svg></body></html>
